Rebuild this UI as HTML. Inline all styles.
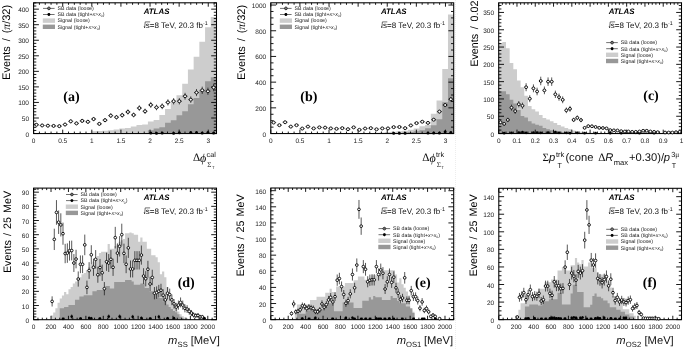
<!DOCTYPE html>
<html><head><meta charset="utf-8"><title>ATLAS figure</title>
<style>html,body{margin:0;padding:0;background:#fff}svg{display:block}</style></head><body>
<svg width="685" height="350" viewBox="0 0 685 350" text-rendering="geometricPrecision">
<rect width="685" height="350" fill="#fff"/>
<path d="M455.5 0V350" stroke="#ededed" stroke-width="1" stroke-dasharray="1 1"/>
<path d="M33.6 133.55 L33.6 133.55 L39.32 133.55 L39.32 133.55 L45.03 133.55 L45.03 133.55 L50.75 133.55 L50.75 133.55 L56.46 133.55 L56.46 133.55 L62.18 133.55 L62.18 133.55 L67.89 133.55 L67.89 133.55 L73.61 133.55 L73.61 133.55 L79.33 133.55 L79.33 133.55 L85.04 133.55 L85.04 133.55 L90.76 133.55 L90.76 131.37 L96.47 131.37 L96.47 131.06 L102.19 131.06 L102.19 130.75 L107.9 130.75 L107.9 130.13 L113.62 130.13 L113.62 129.51 L119.33 129.51 L119.33 128.57 L125.05 128.57 L125.05 127.95 L130.77 127.95 L130.77 126.55 L136.48 126.55 L136.48 125 L142.2 125 L142.2 124.38 L147.91 124.38 L147.91 121.58 L153.63 121.58 L153.63 120.02 L159.34 120.02 L159.34 115.05 L165.06 115.05 L165.06 108.98 L170.77 108.98 L170.78 102.29 L176.49 102.29 L176.49 95.14 L182.21 95.14 L182.21 83.79 L187.92 83.79 L187.92 69.48 L193.64 69.48 L193.64 56.73 L199.35 56.73 L199.35 41.81 L205.07 41.81 L205.07 27.19 L210.78 27.19 L210.78 16.93 L216.5 16.93 L216.5 133.55 Z" fill="#cdcdcd"/>
<path d="M33.6 133.55 L33.6 133.55 L39.32 133.55 L39.32 133.55 L45.03 133.55 L45.03 133.55 L50.75 133.55 L50.75 133.55 L56.46 133.55 L56.46 133.55 L62.18 133.55 L62.18 133.55 L67.89 133.55 L67.89 133.55 L73.61 133.55 L73.61 133.55 L79.33 133.55 L79.33 133.55 L85.04 133.55 L85.04 133.55 L90.76 133.55 L90.76 133.55 L96.47 133.55 L96.47 133.55 L102.19 133.55 L102.19 133.55 L107.9 133.55 L107.9 133.55 L113.62 133.55 L113.62 133.55 L119.33 133.55 L119.33 133.55 L125.05 133.55 L125.05 133.55 L130.77 133.55 L130.77 133.55 L136.48 133.55 L136.48 133.55 L142.2 133.55 L142.2 133.55 L147.91 133.55 L147.91 130.13 L153.63 130.13 L153.63 128.57 L159.34 128.57 L159.34 127.14 L165.06 127.14 L165.06 122.67 L170.77 122.67 L170.78 120.18 L176.49 120.18 L176.49 115.2 L182.21 115.2 L182.21 111.16 L187.92 111.16 L187.92 104.16 L193.64 104.16 L193.64 98.1 L199.35 98.1 L199.35 90.17 L205.07 90.17 L205.07 81.3 L210.78 81.3 L210.78 77.26 L216.5 77.26 L216.5 133.55 Z" fill="#989898"/>
<path d="M33.6 133.55 v-3.9 M33.6 2.8 v3.9 M39.42 133.55 v-2 M39.42 2.8 v2 M45.24 133.55 v-2 M45.24 2.8 v2 M51.07 133.55 v-2 M51.07 2.8 v2 M56.89 133.55 v-2 M56.89 2.8 v2 M62.71 133.55 v-3.9 M62.71 2.8 v3.9 M68.53 133.55 v-2 M68.53 2.8 v2 M74.35 133.55 v-2 M74.35 2.8 v2 M80.18 133.55 v-2 M80.18 2.8 v2 M86 133.55 v-2 M86 2.8 v2 M91.82 133.55 v-3.9 M91.82 2.8 v3.9 M97.64 133.55 v-2 M97.64 2.8 v2 M103.46 133.55 v-2 M103.46 2.8 v2 M109.28 133.55 v-2 M109.28 2.8 v2 M115.11 133.55 v-2 M115.11 2.8 v2 M120.93 133.55 v-3.9 M120.93 2.8 v3.9 M126.75 133.55 v-2 M126.75 2.8 v2 M132.57 133.55 v-2 M132.57 2.8 v2 M138.39 133.55 v-2 M138.39 2.8 v2 M144.22 133.55 v-2 M144.22 2.8 v2 M150.04 133.55 v-3.9 M150.04 2.8 v3.9 M155.86 133.55 v-2 M155.86 2.8 v2 M161.68 133.55 v-2 M161.68 2.8 v2 M167.5 133.55 v-2 M167.5 2.8 v2 M173.33 133.55 v-2 M173.33 2.8 v2 M179.15 133.55 v-3.9 M179.15 2.8 v3.9 M184.97 133.55 v-2 M184.97 2.8 v2 M190.79 133.55 v-2 M190.79 2.8 v2 M196.61 133.55 v-2 M196.61 2.8 v2 M202.43 133.55 v-2 M202.43 2.8 v2 M208.26 133.55 v-3.9 M208.26 2.8 v3.9 M214.08 133.55 v-2 M214.08 2.8 v2 M33.6 133.55 h5.3 M216.5 133.55 h-5.3 M33.6 130.44 h2.7 M216.5 130.44 h-2.7 M33.6 127.33 h2.7 M216.5 127.33 h-2.7 M33.6 124.22 h2.7 M216.5 124.22 h-2.7 M33.6 121.11 h2.7 M216.5 121.11 h-2.7 M33.6 118 h5.3 M216.5 118 h-5.3 M33.6 114.89 h2.7 M216.5 114.89 h-2.7 M33.6 111.78 h2.7 M216.5 111.78 h-2.7 M33.6 108.67 h2.7 M216.5 108.67 h-2.7 M33.6 105.56 h2.7 M216.5 105.56 h-2.7 M33.6 102.45 h5.3 M216.5 102.45 h-5.3 M33.6 99.34 h2.7 M216.5 99.34 h-2.7 M33.6 96.23 h2.7 M216.5 96.23 h-2.7 M33.6 93.12 h2.7 M216.5 93.12 h-2.7 M33.6 90.01 h2.7 M216.5 90.01 h-2.7 M33.6 86.9 h5.3 M216.5 86.9 h-5.3 M33.6 83.79 h2.7 M216.5 83.79 h-2.7 M33.6 80.68 h2.7 M216.5 80.68 h-2.7 M33.6 77.57 h2.7 M216.5 77.57 h-2.7 M33.6 74.46 h2.7 M216.5 74.46 h-2.7 M33.6 71.35 h5.3 M216.5 71.35 h-5.3 M33.6 68.24 h2.7 M216.5 68.24 h-2.7 M33.6 65.13 h2.7 M216.5 65.13 h-2.7 M33.6 62.02 h2.7 M216.5 62.02 h-2.7 M33.6 58.91 h2.7 M216.5 58.91 h-2.7 M33.6 55.8 h5.3 M216.5 55.8 h-5.3 M33.6 52.69 h2.7 M216.5 52.69 h-2.7 M33.6 49.58 h2.7 M216.5 49.58 h-2.7 M33.6 46.47 h2.7 M216.5 46.47 h-2.7 M33.6 43.36 h2.7 M216.5 43.36 h-2.7 M33.6 40.25 h5.3 M216.5 40.25 h-5.3 M33.6 37.14 h2.7 M216.5 37.14 h-2.7 M33.6 34.03 h2.7 M216.5 34.03 h-2.7 M33.6 30.92 h2.7 M216.5 30.92 h-2.7 M33.6 27.81 h2.7 M216.5 27.81 h-2.7 M33.6 24.7 h5.3 M216.5 24.7 h-5.3 M33.6 21.59 h2.7 M216.5 21.59 h-2.7 M33.6 18.48 h2.7 M216.5 18.48 h-2.7 M33.6 15.37 h2.7 M216.5 15.37 h-2.7 M33.6 12.26 h2.7 M216.5 12.26 h-2.7 M33.6 9.15 h5.3 M216.5 9.15 h-5.3 M33.6 6.04 h2.7 M216.5 6.04 h-2.7 M33.6 2.93 h2.7 M216.5 2.93 h-2.7" stroke="#000" stroke-width="0.9" fill="none"/>
<g font-family='"Liberation Sans", sans-serif' font-size="6.5" fill="#1a1a1a"><text x="33.6" y="143.05" text-anchor="middle">0</text><text x="62.71" y="143.05" text-anchor="middle">0.5</text><text x="91.82" y="143.05" text-anchor="middle">1</text><text x="120.93" y="143.05" text-anchor="middle">1.5</text><text x="150.04" y="143.05" text-anchor="middle">2</text><text x="179.15" y="143.05" text-anchor="middle">2.5</text><text x="208.26" y="143.05" text-anchor="middle">3</text><text x="29" y="136.55" text-anchor="end">0</text><text x="29" y="121" text-anchor="end">50</text><text x="29" y="105.45" text-anchor="end">100</text><text x="29" y="89.9" text-anchor="end">150</text><text x="29" y="74.35" text-anchor="end">200</text><text x="29" y="58.8" text-anchor="end">250</text><text x="29" y="43.25" text-anchor="end">300</text><text x="29" y="27.7" text-anchor="end">350</text><text x="29" y="12.15" text-anchor="end">400</text></g>
<rect x="33.6" y="2.8" width="182.9" height="130.75" fill="none" stroke="#000" stroke-width="1.05"/>
<path d="M150.77 132.7 V133.46 M156.49 132.93 V133.55 M162.2 132.7 V133.46 M173.63 132.93 V133.55 M179.35 132.28 V133.26 M190.78 132.08 V133.16 M196.5 132.08 V133.16 M202.21 132.49 V133.37 M207.93 131.88 V133.04 M213.64 132.49 V133.37" stroke="#111" stroke-width="0.7" fill="none"/>
<g fill="#000"><circle cx="150.77" cy="133.08" r="1.5"/><circle cx="156.49" cy="133.24" r="1.5"/><circle cx="162.2" cy="133.08" r="1.5"/><circle cx="173.63" cy="133.24" r="1.5"/><circle cx="179.35" cy="132.77" r="1.5"/><circle cx="190.78" cy="132.62" r="1.5"/><circle cx="196.5" cy="132.62" r="1.5"/><circle cx="202.21" cy="132.93" r="1.5"/><circle cx="207.93" cy="132.46" r="1.5"/><circle cx="213.64" cy="132.93" r="1.5"/></g>
<path d="M36.46 123.09 V126.4 M33.96 124.75 H38.96 M42.17 123.88 V127.05 M39.67 125.46 H44.67 M47.89 124.12 V127.25 M45.39 125.68 H50.39 M53.6 124.36 V127.44 M51.1 125.9 H56.1 M59.32 124.63 V127.67 M56.82 126.15 H61.82 M65.04 122.86 V126.21 M62.54 124.53 H67.54 M70.75 119.38 V123.28 M68.25 121.33 H73.25 M76.47 121.6 V125.16 M73.97 123.38 H78.97 M82.18 118.91 V122.88 M79.68 120.89 H84.68 M87.9 119.88 V123.71 M85.4 121.79 H90.4 M93.61 116.93 V121.18 M91.11 119.06 H96.11 M99.33 122.11 V125.58 M96.83 123.85 H101.83 M105.05 118.14 V122.22 M102.55 120.18 H107.55 M110.76 113.28 V118 M108.26 115.64 H113.26 M116.48 114.97 V119.48 M113.98 117.22 H118.98 M122.19 112.81 V117.59 M119.69 115.2 H124.69 M127.91 109.38 V114.56 M125.41 111.97 H130.41 M133.62 112.55 V117.36 M131.12 114.95 H136.12 M139.34 105.26 V110.89 M136.84 108.08 H141.84 M145.05 108.65 V113.91 M142.55 111.28 H147.55 M150.77 101.92 V107.89 M148.27 104.91 H153.27 M156.49 104.58 V110.28 M153.99 107.43 H158.99 M162.2 103.36 V109.19 M159.7 106.28 H164.7 M167.92 99.27 V105.5 M165.42 102.39 H170.42 M173.63 98.07 V104.41 M171.13 101.24 H176.13 M179.35 98.07 V104.41 M176.85 101.24 H181.85 M185.06 92.82 V99.64 M182.56 96.23 H187.56 M190.78 96.4 V102.9 M188.28 99.65 H193.28 M196.5 88.99 V96.13 M194 92.56 H199 M202.21 86.65 V93.99 M199.71 90.32 H204.71 M207.93 87.63 V94.88 M205.43 91.25 H210.43 M213.64 83.74 V91.31 M211.14 87.52 H216.14" stroke="#111" stroke-width="0.7" fill="none"/>
<g fill="#fff" stroke="#000" stroke-width="0.9"><circle cx="36.46" cy="124.75" r="1.5"/><circle cx="42.17" cy="125.46" r="1.5"/><circle cx="47.89" cy="125.68" r="1.5"/><circle cx="53.6" cy="125.9" r="1.5"/><circle cx="59.32" cy="126.15" r="1.5"/><circle cx="65.04" cy="124.53" r="1.5"/><circle cx="70.75" cy="121.33" r="1.5"/><circle cx="76.47" cy="123.38" r="1.5"/><circle cx="82.18" cy="120.89" r="1.5"/><circle cx="87.9" cy="121.79" r="1.5"/><circle cx="93.61" cy="119.06" r="1.5"/><circle cx="99.33" cy="123.85" r="1.5"/><circle cx="105.05" cy="120.18" r="1.5"/><circle cx="110.76" cy="115.64" r="1.5"/><circle cx="116.48" cy="117.22" r="1.5"/><circle cx="122.19" cy="115.2" r="1.5"/><circle cx="127.91" cy="111.97" r="1.5"/><circle cx="133.62" cy="114.95" r="1.5"/><circle cx="139.34" cy="108.08" r="1.5"/><circle cx="145.05" cy="111.28" r="1.5"/><circle cx="150.77" cy="104.91" r="1.5"/><circle cx="156.49" cy="107.43" r="1.5"/><circle cx="162.2" cy="106.28" r="1.5"/><circle cx="167.92" cy="102.39" r="1.5"/><circle cx="173.63" cy="101.24" r="1.5"/><circle cx="179.35" cy="101.24" r="1.5"/><circle cx="185.06" cy="96.23" r="1.5"/><circle cx="190.78" cy="99.65" r="1.5"/><circle cx="196.5" cy="92.56" r="1.5"/><circle cx="202.21" cy="90.32" r="1.5"/><circle cx="207.93" cy="91.25" r="1.5"/><circle cx="213.64" cy="87.52" r="1.5"/></g>
<path d="M43 8.4 h11.6 M43 14.5 h11.6 M48.9 6.9 v3 M48.9 13 v3" stroke="#111" stroke-width="0.6" fill="none"/>
<circle cx="48.9" cy="8.4" r="1.35" fill="#fff" stroke="#000" stroke-width="0.75"/>
<path d="M47.3 8.4 h3.2 M48.9 6.9 v3" stroke="#222" stroke-width="0.5" fill="none"/>
<circle cx="48.9" cy="14.5" r="1.45" fill="#000"/>
<rect x="42.8" y="18.4" width="12.2" height="4.4" fill="#cdcdcd"/>
<rect x="42.8" y="24.6" width="12.2" height="4.4" fill="#989898"/>
<g font-family='"Liberation Sans", sans-serif' font-size="5.25" fill="#222"><text x="57.6" y="10.2">SB data (loose)</text><text x="57.6" y="16.3">SB data (tight+<tspan font-style="italic">x</tspan>&gt;<tspan font-style="italic">x</tspan><tspan font-size="3.4" dy="1.1">0</tspan><tspan dy="-1.1">)</tspan></text><text x="57.6" y="22.4">Signal (loose)</text><text x="57.6" y="28.6">Signal (tight+<tspan font-style="italic">x</tspan>&gt;<tspan font-style="italic">x</tspan><tspan font-size="3.4" dy="1.1">0</tspan><tspan dy="-1.1">)</tspan></text></g>
<text x="143.7" y="13.9" font-family='"Liberation Sans", sans-serif' font-size="7.9" font-weight="bold" font-style="italic" fill="#000">ATLAS</text>
<path d="M144.2 26.1 l0.45 1.9 l0.55 -6.1 h4.9" stroke="#111" stroke-width="0.6" fill="none" stroke-linejoin="miter"/>
<text x="145.8" y="28" font-family='"Liberation Sans", sans-serif' font-size="8" fill="#111">s=8 TeV, 20.3 fb<tspan font-size="5.3" dy="-3.4">-1</tspan></text>
<text x="71.4" y="101.1" text-anchor="middle" font-family='"Liberation Serif", serif' font-size="14" font-weight="bold" fill="#000">(a)</text>
<path d="M270.8 133.55 L270.8 133.55 L276.52 133.55 L276.52 133.55 L282.23 133.55 L282.23 133.55 L287.95 133.55 L287.95 133.55 L293.66 133.55 L293.66 133.55 L299.38 133.55 L299.38 133.55 L305.09 133.55 L305.09 133.55 L310.81 133.55 L310.81 133.55 L316.52 133.55 L316.52 133.55 L322.24 133.55 L322.24 133.55 L327.96 133.55 L327.96 133.55 L333.67 133.55 L333.67 133.55 L339.39 133.55 L339.39 133.55 L345.1 133.55 L345.1 133.55 L350.82 133.55 L350.82 133.55 L356.53 133.55 L356.53 133.55 L362.25 133.55 L362.25 133.04 L367.97 133.04 L367.97 132.91 L373.68 132.91 L373.68 132.78 L379.4 132.78 L379.4 132.52 L385.11 132.52 L385.11 132.01 L390.83 132.01 L390.83 131.75 L396.54 131.75 L396.54 131.37 L402.26 131.37 L402.26 130.72 L407.97 130.72 L407.98 129.82 L413.69 129.82 L413.69 128.41 L419.41 128.41 L419.41 126.35 L425.12 126.35 L425.12 124.94 L430.84 124.94 L430.84 113.76 L436.55 113.76 L436.55 100.53 L442.27 100.53 L442.27 68.91 L447.98 68.91 L447.98 14.56 L453.7 14.56 L453.7 133.55 Z" fill="#cdcdcd"/>
<path d="M270.8 133.55 L270.8 133.55 L276.52 133.55 L276.52 133.55 L282.23 133.55 L282.23 133.55 L287.95 133.55 L287.95 133.55 L293.66 133.55 L293.66 133.55 L299.38 133.55 L299.38 133.55 L305.09 133.55 L305.09 133.55 L310.81 133.55 L310.81 133.55 L316.52 133.55 L316.52 133.55 L322.24 133.55 L322.24 133.55 L327.96 133.55 L327.96 133.55 L333.67 133.55 L333.67 133.55 L339.39 133.55 L339.39 133.55 L345.1 133.55 L345.1 133.55 L350.82 133.55 L350.82 133.55 L356.53 133.55 L356.53 133.55 L362.25 133.55 L362.25 133.55 L367.97 133.55 L367.97 133.55 L373.68 133.55 L373.68 133.55 L379.4 133.55 L379.4 133.55 L385.11 133.55 L385.11 133.55 L390.83 133.55 L390.83 133.55 L396.54 133.55 L396.54 132.91 L402.26 132.91 L402.26 132.52 L407.97 132.52 L407.98 132.01 L413.69 132.01 L413.69 131.37 L419.41 131.37 L419.41 130.34 L425.12 130.34 L425.12 128.28 L430.84 128.28 L430.84 125.2 L436.55 125.2 L436.55 119.16 L442.27 119.16 L442.27 102.2 L447.98 102.2 L447.98 78.17 L453.7 78.17 L453.7 133.55 Z" fill="#989898"/>
<path d="M270.8 133.55 v-3.9 M270.8 2.8 v3.9 M276.62 133.55 v-2 M276.62 2.8 v2 M282.44 133.55 v-2 M282.44 2.8 v2 M288.27 133.55 v-2 M288.27 2.8 v2 M294.09 133.55 v-2 M294.09 2.8 v2 M299.91 133.55 v-3.9 M299.91 2.8 v3.9 M305.73 133.55 v-2 M305.73 2.8 v2 M311.55 133.55 v-2 M311.55 2.8 v2 M317.38 133.55 v-2 M317.38 2.8 v2 M323.2 133.55 v-2 M323.2 2.8 v2 M329.02 133.55 v-3.9 M329.02 2.8 v3.9 M334.84 133.55 v-2 M334.84 2.8 v2 M340.66 133.55 v-2 M340.66 2.8 v2 M346.48 133.55 v-2 M346.48 2.8 v2 M352.31 133.55 v-2 M352.31 2.8 v2 M358.13 133.55 v-3.9 M358.13 2.8 v3.9 M363.95 133.55 v-2 M363.95 2.8 v2 M369.77 133.55 v-2 M369.77 2.8 v2 M375.59 133.55 v-2 M375.59 2.8 v2 M381.42 133.55 v-2 M381.42 2.8 v2 M387.24 133.55 v-3.9 M387.24 2.8 v3.9 M393.06 133.55 v-2 M393.06 2.8 v2 M398.88 133.55 v-2 M398.88 2.8 v2 M404.7 133.55 v-2 M404.7 2.8 v2 M410.53 133.55 v-2 M410.53 2.8 v2 M416.35 133.55 v-3.9 M416.35 2.8 v3.9 M422.17 133.55 v-2 M422.17 2.8 v2 M427.99 133.55 v-2 M427.99 2.8 v2 M433.81 133.55 v-2 M433.81 2.8 v2 M439.63 133.55 v-2 M439.63 2.8 v2 M445.46 133.55 v-3.9 M445.46 2.8 v3.9 M451.28 133.55 v-2 M451.28 2.8 v2 M270.8 133.55 h5.3 M453.7 133.55 h-5.3 M270.8 127.13 h2.7 M453.7 127.13 h-2.7 M270.8 120.7 h2.7 M453.7 120.7 h-2.7 M270.8 114.28 h2.7 M453.7 114.28 h-2.7 M270.8 107.85 h5.3 M453.7 107.85 h-5.3 M270.8 101.43 h2.7 M453.7 101.43 h-2.7 M270.8 95 h2.7 M453.7 95 h-2.7 M270.8 88.58 h2.7 M453.7 88.58 h-2.7 M270.8 82.15 h5.3 M453.7 82.15 h-5.3 M270.8 75.73 h2.7 M453.7 75.73 h-2.7 M270.8 69.3 h2.7 M453.7 69.3 h-2.7 M270.8 62.88 h2.7 M453.7 62.88 h-2.7 M270.8 56.45 h5.3 M453.7 56.45 h-5.3 M270.8 50.03 h2.7 M453.7 50.03 h-2.7 M270.8 43.6 h2.7 M453.7 43.6 h-2.7 M270.8 37.18 h2.7 M453.7 37.18 h-2.7 M270.8 30.75 h5.3 M453.7 30.75 h-5.3 M270.8 24.33 h2.7 M453.7 24.33 h-2.7 M270.8 17.9 h2.7 M453.7 17.9 h-2.7 M270.8 11.48 h2.7 M453.7 11.48 h-2.7 M270.8 5.05 h5.3 M453.7 5.05 h-5.3" stroke="#000" stroke-width="0.9" fill="none"/>
<g font-family='"Liberation Sans", sans-serif' font-size="6.5" fill="#1a1a1a"><text x="270.8" y="143.05" text-anchor="middle">0</text><text x="299.91" y="143.05" text-anchor="middle">0.5</text><text x="329.02" y="143.05" text-anchor="middle">1</text><text x="358.13" y="143.05" text-anchor="middle">1.5</text><text x="387.24" y="143.05" text-anchor="middle">2</text><text x="416.35" y="143.05" text-anchor="middle">2.5</text><text x="445.46" y="143.05" text-anchor="middle">3</text><text x="266.2" y="136.55" text-anchor="end">0</text><text x="266.2" y="110.85" text-anchor="end">200</text><text x="266.2" y="85.15" text-anchor="end">400</text><text x="266.2" y="59.45" text-anchor="end">600</text><text x="266.2" y="33.75" text-anchor="end">800</text><text x="266.2" y="8.05" text-anchor="end">1000</text></g>
<rect x="270.8" y="2.8" width="182.9" height="130.75" fill="none" stroke="#000" stroke-width="1.05"/>
<path d="M393.69 132.94 V133.39 M399.4 132.94 V133.39 M405.12 132.94 V133.39 M427.98 132.78 V133.29 M433.7 132.78 V133.29 M439.41 132.62 V133.19 M445.13 131.27 V132.23 M450.84 132.01 V132.78" stroke="#111" stroke-width="0.7" fill="none"/>
<g fill="#000"><circle cx="393.69" cy="133.16" r="1.5"/><circle cx="399.4" cy="133.16" r="1.5"/><circle cx="405.12" cy="133.16" r="1.5"/><circle cx="427.98" cy="133.04" r="1.5"/><circle cx="433.7" cy="133.04" r="1.5"/><circle cx="439.41" cy="132.91" r="1.5"/><circle cx="445.13" cy="131.75" r="1.5"/><circle cx="450.84" cy="132.39" r="1.5"/></g>
<path d="M273.66 121.36 V123.74 M271.16 122.55 H276.16 M279.37 124.16 V126.23 M276.87 125.2 H281.87 M285.09 121.04 V123.45 M282.59 122.24 H287.59 M290.8 125.67 V127.56 M288.3 126.61 H293.3 M296.52 124.16 V126.23 M294.02 125.2 H299.02 M302.24 127.74 V129.34 M299.74 128.54 H304.74 M307.95 125.67 V127.56 M305.45 126.61 H310.45 M313.67 127.6 V129.22 M311.17 128.41 H316.17 M319.38 126.49 V128.27 M316.88 127.38 H321.88 M325.1 126.77 V128.51 M322.6 127.64 H327.6 M330.81 127.6 V129.22 M328.31 128.41 H333.31 M336.53 128.01 V129.58 M334.03 128.8 H339.03 M342.25 127.32 V128.99 M339.75 128.15 H344.75 M347.96 128.43 V129.93 M345.46 129.18 H350.46 M353.68 126.49 V128.27 M351.18 127.38 H356.18 M359.39 129.13 V130.52 M356.89 129.82 H361.89 M365.11 127.74 V129.34 M362.61 128.54 H367.61 M370.82 127.32 V128.99 M368.32 128.15 H373.32 M376.54 128.57 V130.05 M374.04 129.31 H379.04 M382.25 127.6 V129.22 M379.75 128.41 H384.75 M387.97 127.6 V129.22 M385.47 128.41 H390.47 M393.69 126.22 V128.03 M391.19 127.13 H396.19 M399.4 126.08 V127.91 M396.9 127 H401.9 M405.12 127.32 V128.99 M402.62 128.15 H407.62 M410.83 124.43 V126.47 M408.33 125.45 H413.33 M416.55 121.99 V124.3 M414.05 123.14 H419.05 M422.26 120.5 V122.96 M419.76 121.73 H424.76 M427.98 121.71 V124.06 M425.48 122.88 H430.48 M433.7 118.34 V121.01 M431.2 119.67 H436.2 M439.41 109.9 V113.26 M436.91 111.58 H441.91 M445.13 103.11 V106.94 M442.63 105.02 H447.63 M450.84 97.14 V101.34 M448.34 99.24 H453.34" stroke="#111" stroke-width="0.7" fill="none"/>
<g fill="#fff" stroke="#000" stroke-width="0.9"><circle cx="273.66" cy="122.55" r="1.5"/><circle cx="279.37" cy="125.2" r="1.5"/><circle cx="285.09" cy="122.24" r="1.5"/><circle cx="290.8" cy="126.61" r="1.5"/><circle cx="296.52" cy="125.2" r="1.5"/><circle cx="302.24" cy="128.54" r="1.5"/><circle cx="307.95" cy="126.61" r="1.5"/><circle cx="313.67" cy="128.41" r="1.5"/><circle cx="319.38" cy="127.38" r="1.5"/><circle cx="325.1" cy="127.64" r="1.5"/><circle cx="330.81" cy="128.41" r="1.5"/><circle cx="336.53" cy="128.8" r="1.5"/><circle cx="342.25" cy="128.15" r="1.5"/><circle cx="347.96" cy="129.18" r="1.5"/><circle cx="353.68" cy="127.38" r="1.5"/><circle cx="359.39" cy="129.82" r="1.5"/><circle cx="365.11" cy="128.54" r="1.5"/><circle cx="370.82" cy="128.15" r="1.5"/><circle cx="376.54" cy="129.31" r="1.5"/><circle cx="382.25" cy="128.41" r="1.5"/><circle cx="387.97" cy="128.41" r="1.5"/><circle cx="393.69" cy="127.13" r="1.5"/><circle cx="399.4" cy="127" r="1.5"/><circle cx="405.12" cy="128.15" r="1.5"/><circle cx="410.83" cy="125.45" r="1.5"/><circle cx="416.55" cy="123.14" r="1.5"/><circle cx="422.26" cy="121.73" r="1.5"/><circle cx="427.98" cy="122.88" r="1.5"/><circle cx="433.7" cy="119.67" r="1.5"/><circle cx="439.41" cy="111.58" r="1.5"/><circle cx="445.13" cy="105.02" r="1.5"/><circle cx="450.84" cy="99.24" r="1.5"/></g>
<path d="M280 8.4 h11.6 M280 14.5 h11.6 M285.9 6.9 v3 M285.9 13 v3" stroke="#111" stroke-width="0.6" fill="none"/>
<circle cx="285.9" cy="8.4" r="1.35" fill="#fff" stroke="#000" stroke-width="0.75"/>
<path d="M284.3 8.4 h3.2 M285.9 6.9 v3" stroke="#222" stroke-width="0.5" fill="none"/>
<circle cx="285.9" cy="14.5" r="1.45" fill="#000"/>
<rect x="279.8" y="18.4" width="12.2" height="4.4" fill="#cdcdcd"/>
<rect x="279.8" y="24.6" width="12.2" height="4.4" fill="#989898"/>
<g font-family='"Liberation Sans", sans-serif' font-size="5.25" fill="#222"><text x="294.6" y="10.2">SB data (loose)</text><text x="294.6" y="16.3">SB data (tight+<tspan font-style="italic">x</tspan>&gt;<tspan font-style="italic">x</tspan><tspan font-size="3.4" dy="1.1">0</tspan><tspan dy="-1.1">)</tspan></text><text x="294.6" y="22.4">Signal (loose)</text><text x="294.6" y="28.6">Signal (tight+<tspan font-style="italic">x</tspan>&gt;<tspan font-style="italic">x</tspan><tspan font-size="3.4" dy="1.1">0</tspan><tspan dy="-1.1">)</tspan></text></g>
<text x="380.9" y="13.9" font-family='"Liberation Sans", sans-serif' font-size="7.9" font-weight="bold" font-style="italic" fill="#000">ATLAS</text>
<path d="M381.4 26.1 l0.45 1.9 l0.55 -6.1 h4.9" stroke="#111" stroke-width="0.6" fill="none" stroke-linejoin="miter"/>
<text x="383" y="28" font-family='"Liberation Sans", sans-serif' font-size="8" fill="#111">s=8 TeV, 20.3 fb<tspan font-size="5.3" dy="-3.4">-1</tspan></text>
<text x="308.8" y="100.9" text-anchor="middle" font-family='"Liberation Serif", serif' font-size="14" font-weight="bold" fill="#000">(b)</text>
<path d="M498.7 133.55 L498.7 42.9 L502.36 42.9 L502.36 41.96 L506.01 41.96 L506.01 48.26 L509.67 48.26 L509.67 62.97 L513.32 62.97 L513.32 69.19 L516.98 69.19 L516.98 80.61 L520.64 80.61 L520.64 87.19 L524.29 87.19 L524.29 95.84 L527.95 95.84 L527.95 106.08 L531.6 106.08 L531.6 109.23 L535.26 109.23 L535.26 111.61 L538.92 111.61 L538.92 115.07 L542.57 115.07 L542.57 117.88 L546.23 117.88 L546.23 119.47 L549.88 119.47 L549.88 121.34 L553.54 121.34 L553.54 122.93 L557.2 122.93 L557.2 124.97 L560.85 124.97 L560.85 126.53 L564.51 126.53 L564.51 128.12 L568.16 128.12 L568.16 129.36 L571.82 129.36 L571.82 130.47 L575.48 130.47 L575.48 131.27 L579.13 131.27 L579.13 131.82 L582.79 131.82 L582.79 132.17 L586.44 132.17 L586.44 132.51 L590.1 132.51 L590.1 132.69 L593.76 132.69 L593.76 132.86 L597.41 132.86 L597.41 133.03 L601.07 133.03 L601.07 133.2 L604.72 133.2 L604.72 133.55 L608.38 133.55 L608.38 133.55 L612.04 133.55 L612.04 133.55 L615.69 133.55 L615.69 133.55 L619.35 133.55 L619.35 133.55 L623 133.55 L623 133.55 L626.66 133.55 L626.66 133.55 L630.32 133.55 L630.32 133.55 L633.97 133.55 L633.97 133.55 L637.63 133.55 L637.63 133.55 L641.28 133.55 L641.28 133.55 L644.94 133.55 L644.94 133.55 L648.6 133.55 L648.6 133.55 L652.25 133.55 L652.25 133.55 L655.91 133.55 L655.91 133.55 L659.56 133.55 L659.56 133.55 L663.22 133.55 L663.22 133.55 L666.88 133.55 L666.88 133.55 L670.53 133.55 L670.53 133.55 L674.19 133.55 L674.19 133.55 L677.84 133.55 L677.84 133.55 L681.5 133.55 L681.5 133.55 Z" fill="#cdcdcd"/>
<path d="M498.7 133.55 L498.7 91.17 L502.36 91.17 L502.36 91.17 L506.01 91.17 L506.01 94.31 L509.67 94.31 L509.67 99.82 L513.32 99.82 L513.32 103.45 L516.98 103.45 L516.98 110.02 L520.64 110.02 L520.64 116.01 L524.29 116.01 L524.29 117.56 L527.95 117.56 L527.95 121.34 L531.6 121.34 L531.6 123.38 L535.26 123.38 L535.26 124.66 L538.92 124.66 L538.92 125.77 L542.57 125.77 L542.57 128.12 L546.23 128.12 L546.23 129.23 L549.88 129.23 L549.88 130.16 L553.54 130.16 L553.54 130.78 L557.2 130.78 L557.2 131.4 L560.85 131.4 L560.85 131.89 L564.51 131.89 L564.51 132.34 L568.16 132.34 L568.16 132.69 L571.82 132.69 L571.82 133 L575.48 133 L575.48 133.2 L579.13 133.2 L579.13 133.55 L582.79 133.55 L582.79 133.55 L586.44 133.55 L586.44 133.55 L590.1 133.55 L590.1 133.55 L593.76 133.55 L593.76 133.55 L597.41 133.55 L597.41 133.55 L601.07 133.55 L601.07 133.55 L604.72 133.55 L604.72 133.55 L608.38 133.55 L608.38 133.55 L612.04 133.55 L612.04 133.55 L615.69 133.55 L615.69 133.55 L619.35 133.55 L619.35 133.55 L623 133.55 L623 133.55 L626.66 133.55 L626.66 133.55 L630.32 133.55 L630.32 133.55 L633.97 133.55 L633.97 133.55 L637.63 133.55 L637.63 133.55 L641.28 133.55 L641.28 133.55 L644.94 133.55 L644.94 133.55 L648.6 133.55 L648.6 133.55 L652.25 133.55 L652.25 133.55 L655.91 133.55 L655.91 133.55 L659.56 133.55 L659.56 133.55 L663.22 133.55 L663.22 133.55 L666.88 133.55 L666.88 133.55 L670.53 133.55 L670.53 133.55 L674.19 133.55 L674.19 133.55 L677.84 133.55 L677.84 133.55 L681.5 133.55 L681.5 133.55 Z" fill="#989898"/>
<path d="M498.7 133.55 v-3.9 M498.7 2.8 v3.9 M502.36 133.55 v-2 M502.36 2.8 v2 M506.01 133.55 v-2 M506.01 2.8 v2 M509.67 133.55 v-2 M509.67 2.8 v2 M513.32 133.55 v-2 M513.32 2.8 v2 M516.98 133.55 v-3.9 M516.98 2.8 v3.9 M520.64 133.55 v-2 M520.64 2.8 v2 M524.29 133.55 v-2 M524.29 2.8 v2 M527.95 133.55 v-2 M527.95 2.8 v2 M531.6 133.55 v-2 M531.6 2.8 v2 M535.26 133.55 v-3.9 M535.26 2.8 v3.9 M538.92 133.55 v-2 M538.92 2.8 v2 M542.57 133.55 v-2 M542.57 2.8 v2 M546.23 133.55 v-2 M546.23 2.8 v2 M549.88 133.55 v-2 M549.88 2.8 v2 M553.54 133.55 v-3.9 M553.54 2.8 v3.9 M557.2 133.55 v-2 M557.2 2.8 v2 M560.85 133.55 v-2 M560.85 2.8 v2 M564.51 133.55 v-2 M564.51 2.8 v2 M568.16 133.55 v-2 M568.16 2.8 v2 M571.82 133.55 v-3.9 M571.82 2.8 v3.9 M575.48 133.55 v-2 M575.48 2.8 v2 M579.13 133.55 v-2 M579.13 2.8 v2 M582.79 133.55 v-2 M582.79 2.8 v2 M586.44 133.55 v-2 M586.44 2.8 v2 M590.1 133.55 v-3.9 M590.1 2.8 v3.9 M593.76 133.55 v-2 M593.76 2.8 v2 M597.41 133.55 v-2 M597.41 2.8 v2 M601.07 133.55 v-2 M601.07 2.8 v2 M604.72 133.55 v-2 M604.72 2.8 v2 M608.38 133.55 v-3.9 M608.38 2.8 v3.9 M612.04 133.55 v-2 M612.04 2.8 v2 M615.69 133.55 v-2 M615.69 2.8 v2 M619.35 133.55 v-2 M619.35 2.8 v2 M623 133.55 v-2 M623 2.8 v2 M626.66 133.55 v-3.9 M626.66 2.8 v3.9 M630.32 133.55 v-2 M630.32 2.8 v2 M633.97 133.55 v-2 M633.97 2.8 v2 M637.63 133.55 v-2 M637.63 2.8 v2 M641.28 133.55 v-2 M641.28 2.8 v2 M644.94 133.55 v-3.9 M644.94 2.8 v3.9 M648.6 133.55 v-2 M648.6 2.8 v2 M652.25 133.55 v-2 M652.25 2.8 v2 M655.91 133.55 v-2 M655.91 2.8 v2 M659.56 133.55 v-2 M659.56 2.8 v2 M663.22 133.55 v-3.9 M663.22 2.8 v3.9 M666.88 133.55 v-2 M666.88 2.8 v2 M670.53 133.55 v-2 M670.53 2.8 v2 M674.19 133.55 v-2 M674.19 2.8 v2 M677.84 133.55 v-2 M677.84 2.8 v2 M681.5 133.55 v-3.9 M681.5 2.8 v3.9 M498.7 133.55 h5.3 M681.5 133.55 h-5.3 M498.7 130.09 h2.7 M681.5 130.09 h-2.7 M498.7 126.63 h2.7 M681.5 126.63 h-2.7 M498.7 123.17 h2.7 M681.5 123.17 h-2.7 M498.7 119.71 h2.7 M681.5 119.71 h-2.7 M498.7 116.25 h5.3 M681.5 116.25 h-5.3 M498.7 112.79 h2.7 M681.5 112.79 h-2.7 M498.7 109.33 h2.7 M681.5 109.33 h-2.7 M498.7 105.87 h2.7 M681.5 105.87 h-2.7 M498.7 102.41 h2.7 M681.5 102.41 h-2.7 M498.7 98.95 h5.3 M681.5 98.95 h-5.3 M498.7 95.49 h2.7 M681.5 95.49 h-2.7 M498.7 92.03 h2.7 M681.5 92.03 h-2.7 M498.7 88.57 h2.7 M681.5 88.57 h-2.7 M498.7 85.11 h2.7 M681.5 85.11 h-2.7 M498.7 81.65 h5.3 M681.5 81.65 h-5.3 M498.7 78.19 h2.7 M681.5 78.19 h-2.7 M498.7 74.73 h2.7 M681.5 74.73 h-2.7 M498.7 71.27 h2.7 M681.5 71.27 h-2.7 M498.7 67.81 h2.7 M681.5 67.81 h-2.7 M498.7 64.35 h5.3 M681.5 64.35 h-5.3 M498.7 60.89 h2.7 M681.5 60.89 h-2.7 M498.7 57.43 h2.7 M681.5 57.43 h-2.7 M498.7 53.97 h2.7 M681.5 53.97 h-2.7 M498.7 50.51 h2.7 M681.5 50.51 h-2.7 M498.7 47.05 h5.3 M681.5 47.05 h-5.3 M498.7 43.59 h2.7 M681.5 43.59 h-2.7 M498.7 40.13 h2.7 M681.5 40.13 h-2.7 M498.7 36.67 h2.7 M681.5 36.67 h-2.7 M498.7 33.21 h2.7 M681.5 33.21 h-2.7 M498.7 29.75 h5.3 M681.5 29.75 h-5.3 M498.7 26.29 h2.7 M681.5 26.29 h-2.7 M498.7 22.83 h2.7 M681.5 22.83 h-2.7 M498.7 19.37 h2.7 M681.5 19.37 h-2.7 M498.7 15.91 h2.7 M681.5 15.91 h-2.7 M498.7 12.45 h5.3 M681.5 12.45 h-5.3 M498.7 8.99 h2.7 M681.5 8.99 h-2.7 M498.7 5.53 h2.7 M681.5 5.53 h-2.7" stroke="#000" stroke-width="0.9" fill="none"/>
<g font-family='"Liberation Sans", sans-serif' font-size="6.5" fill="#1a1a1a"><text x="498.7" y="143.05" text-anchor="middle">0</text><text x="516.98" y="143.05" text-anchor="middle">0.1</text><text x="535.26" y="143.05" text-anchor="middle">0.2</text><text x="553.54" y="143.05" text-anchor="middle">0.3</text><text x="571.82" y="143.05" text-anchor="middle">0.4</text><text x="590.1" y="143.05" text-anchor="middle">0.5</text><text x="608.38" y="143.05" text-anchor="middle">0.6</text><text x="626.66" y="143.05" text-anchor="middle">0.7</text><text x="644.94" y="143.05" text-anchor="middle">0.8</text><text x="663.22" y="143.05" text-anchor="middle">0.9</text><text x="681.5" y="143.05" text-anchor="middle">1</text><text x="494.1" y="136.55" text-anchor="end">0</text><text x="494.1" y="119.25" text-anchor="end">50</text><text x="494.1" y="101.95" text-anchor="end">100</text><text x="494.1" y="84.65" text-anchor="end">150</text><text x="494.1" y="67.35" text-anchor="end">200</text><text x="494.1" y="50.05" text-anchor="end">250</text><text x="494.1" y="32.75" text-anchor="end">300</text><text x="494.1" y="15.45" text-anchor="end">350</text></g>
<rect x="498.7" y="2.8" width="182.8" height="130.75" fill="none" stroke="#000" stroke-width="1.05"/>
<path d="M504.18 132.86 V133.55 M511.5 132.37 V133.35 M518.81 131.91 V133.11 M522.46 131.47 V132.86 M526.12 132.37 V133.35 M533.43 131.91 V133.11 M537.09 131.91 V133.11 M540.74 132.37 V133.35 M548.06 131.91 V133.11 M555.37 131.47 V132.86 M559.02 132.37 V133.35 M566.34 132.37 V133.35 M569.99 132.86 V133.55 M577.3 132.37 V133.35 M584.62 132.86 V133.55 M595.58 132.86 V133.55 M610.21 132.86 V133.55 M621.18 132.86 V133.55 M635.8 132.37 V133.35 M639.46 132.86 V133.55 M654.08 132.86 V133.55" stroke="#111" stroke-width="0.7" fill="none"/>
<g fill="#000"><circle cx="504.18" cy="133.2" r="1.35"/><circle cx="511.5" cy="132.86" r="1.35"/><circle cx="518.81" cy="132.51" r="1.35"/><circle cx="522.46" cy="132.17" r="1.35"/><circle cx="526.12" cy="132.86" r="1.35"/><circle cx="533.43" cy="132.51" r="1.35"/><circle cx="537.09" cy="132.51" r="1.35"/><circle cx="540.74" cy="132.86" r="1.35"/><circle cx="548.06" cy="132.51" r="1.35"/><circle cx="555.37" cy="132.17" r="1.35"/><circle cx="559.02" cy="132.86" r="1.35"/><circle cx="566.34" cy="132.86" r="1.35"/><circle cx="569.99" cy="133.2" r="1.35"/><circle cx="577.3" cy="132.86" r="1.35"/><circle cx="584.62" cy="133.2" r="1.35"/><circle cx="595.58" cy="133.2" r="1.35"/><circle cx="610.21" cy="133.2" r="1.35"/><circle cx="621.18" cy="133.2" r="1.35"/><circle cx="635.8" cy="132.86" r="1.35"/><circle cx="639.46" cy="133.2" r="1.35"/><circle cx="654.08" cy="133.2" r="1.35"/></g>
<path d="M500.53 120.29 V124.25 M498.7 122.27 H502.36 M504.18 122.03 V125.69 M502.36 123.86 H506.01 M507.84 117.75 V122.09 M506.01 119.92 H509.67 M511.5 104.68 V110.66 M509.67 107.67 H513.32 M515.15 108.34 V113.91 M513.32 111.13 H516.98 M518.81 101.02 V107.4 M516.98 104.21 H520.64 M522.46 102.67 V108.87 M520.64 105.77 H524.29 M526.12 83.22 V91.22 M524.29 87.22 H527.95 M529.78 95.24 V102.18 M527.95 98.71 H531.6 M533.43 84.37 V92.28 M531.6 88.33 H535.26 M537.09 87.66 V95.29 M535.26 91.48 H538.92 M540.74 76.69 V85.22 M538.92 80.96 H542.57 M544.4 86.5 V94.23 M542.57 90.37 H546.23 M548.06 77.41 V85.89 M546.23 81.65 H549.88 M551.71 77.41 V85.89 M549.88 81.65 H553.54 M555.37 90.63 V98 M553.54 94.31 H557.2 M559.02 93.6 V100.7 M557.2 97.15 H560.85 M562.68 96.4 V103.23 M560.85 99.82 H564.51 M566.34 107.5 V113.17 M564.51 110.33 H568.16 M569.99 105.89 V111.74 M568.16 108.81 H571.82 M573.65 117.71 V122.06 M571.82 119.88 H575.48 M577.3 115.44 V120.11 M575.48 117.77 H579.13 M580.96 117.9 V122.22 M579.13 120.06 H582.79 M584.62 126.44 V129.25 M582.79 127.84 H586.44 M588.27 124.54 V127.75 M586.44 126.15 H590.1 M591.93 124.7 V127.87 M590.1 126.28 H593.76 M595.58 125.47 V128.48 M593.76 126.98 H597.41 M599.24 126.44 V129.25 M597.41 127.84 H601.07 M602.9 126.63 V129.4 M601.07 128.01 H604.72 M606.55 127.02 V129.7 M604.72 128.36 H608.38 M610.21 129 V131.18 M608.38 130.09 H612.04 M613.86 129.28 V131.39 M612.04 130.33 H615.69 M617.52 129.4 V131.47 M615.69 130.44 H619.35 M621.18 130.21 V132.04 M619.35 131.13 H623 M624.83 130.63 V132.32 M623 131.47 H626.66 M628.49 130.63 V132.32 M626.66 131.47 H630.32 M632.14 131.05 V132.59 M630.32 131.82 H633.97 M635.8 131.05 V132.59 M633.97 131.82 H637.63 M639.46 130.63 V132.32 M637.63 131.47 H641.28 M643.11 129.8 V131.76 M641.28 130.78 H644.94 M646.77 129.8 V131.76 M644.94 130.78 H648.6 M650.42 130.63 V132.32 M648.6 131.47 H652.25 M654.08 131.05 V132.59 M652.25 131.82 H655.91 M657.74 131.47 V132.86 M655.91 132.17 H659.56 M665.05 131.91 V133.11 M663.22 132.51 H666.88 M668.7 131.91 V133.11 M666.88 132.51 H670.53 M672.36 131.91 V133.11 M670.53 132.51 H674.19 M676.02 131.47 V132.86 M674.19 132.17 H677.84 M679.67 131.05 V132.59 M677.84 131.82 H681.5" stroke="#111" stroke-width="0.7" fill="none"/>
<g fill="#fff" stroke="#000" stroke-width="0.9"><circle cx="500.53" cy="122.27" r="1.4"/><circle cx="504.18" cy="123.86" r="1.4"/><circle cx="507.84" cy="119.92" r="1.4"/><circle cx="511.5" cy="107.67" r="1.4"/><circle cx="515.15" cy="111.13" r="1.4"/><circle cx="518.81" cy="104.21" r="1.4"/><circle cx="522.46" cy="105.77" r="1.4"/><circle cx="526.12" cy="87.22" r="1.4"/><circle cx="529.78" cy="98.71" r="1.4"/><circle cx="533.43" cy="88.33" r="1.4"/><circle cx="537.09" cy="91.48" r="1.4"/><circle cx="540.74" cy="80.96" r="1.4"/><circle cx="544.4" cy="90.37" r="1.4"/><circle cx="548.06" cy="81.65" r="1.4"/><circle cx="551.71" cy="81.65" r="1.4"/><circle cx="555.37" cy="94.31" r="1.4"/><circle cx="559.02" cy="97.15" r="1.4"/><circle cx="562.68" cy="99.82" r="1.4"/><circle cx="566.34" cy="110.33" r="1.4"/><circle cx="569.99" cy="108.81" r="1.4"/><circle cx="573.65" cy="119.88" r="1.4"/><circle cx="577.3" cy="117.77" r="1.4"/><circle cx="580.96" cy="120.06" r="1.4"/><circle cx="584.62" cy="127.84" r="1.4"/><circle cx="588.27" cy="126.15" r="1.4"/><circle cx="591.93" cy="126.28" r="1.4"/><circle cx="595.58" cy="126.98" r="1.4"/><circle cx="599.24" cy="127.84" r="1.4"/><circle cx="602.9" cy="128.01" r="1.4"/><circle cx="606.55" cy="128.36" r="1.4"/><circle cx="610.21" cy="130.09" r="1.4"/><circle cx="613.86" cy="130.33" r="1.4"/><circle cx="617.52" cy="130.44" r="1.4"/><circle cx="621.18" cy="131.13" r="1.4"/><circle cx="624.83" cy="131.47" r="1.4"/><circle cx="628.49" cy="131.47" r="1.4"/><circle cx="632.14" cy="131.82" r="1.4"/><circle cx="635.8" cy="131.82" r="1.4"/><circle cx="639.46" cy="131.47" r="1.4"/><circle cx="643.11" cy="130.78" r="1.4"/><circle cx="646.77" cy="130.78" r="1.4"/><circle cx="650.42" cy="131.47" r="1.4"/><circle cx="654.08" cy="131.82" r="1.4"/><circle cx="657.74" cy="132.17" r="1.4"/><circle cx="665.05" cy="132.51" r="1.4"/><circle cx="668.7" cy="132.51" r="1.4"/><circle cx="672.36" cy="132.51" r="1.4"/><circle cx="676.02" cy="132.17" r="1.4"/><circle cx="679.67" cy="131.82" r="1.4"/></g>
<path d="M606.2 42.6 h11.6 M606.2 48.7 h11.6 M612.1 41.1 v3 M612.1 47.2 v3" stroke="#111" stroke-width="0.6" fill="none"/>
<circle cx="612.1" cy="42.6" r="1.35" fill="#fff" stroke="#000" stroke-width="0.75"/>
<path d="M610.5 42.6 h3.2 M612.1 41.1 v3" stroke="#222" stroke-width="0.5" fill="none"/>
<circle cx="612.1" cy="48.7" r="1.45" fill="#000"/>
<rect x="606" y="52.6" width="12.2" height="4.4" fill="#cdcdcd"/>
<rect x="606" y="58.8" width="12.2" height="4.4" fill="#989898"/>
<g font-family='"Liberation Sans", sans-serif' font-size="5.25" fill="#222"><text x="620.8" y="44.4">SB data (loose)</text><text x="620.8" y="50.5">SB data (tight+<tspan font-style="italic">x</tspan>&gt;<tspan font-style="italic">x</tspan><tspan font-size="3.4" dy="1.1">0</tspan><tspan dy="-1.1">)</tspan></text><text x="620.8" y="56.6">Signal (loose)</text><text x="620.8" y="62.8">Signal (tight+<tspan font-style="italic">x</tspan>&gt;<tspan font-style="italic">x</tspan><tspan font-size="3.4" dy="1.1">0</tspan><tspan dy="-1.1">)</tspan></text></g>
<text x="608.7" y="13.9" font-family='"Liberation Sans", sans-serif' font-size="7.9" font-weight="bold" font-style="italic" fill="#000">ATLAS</text>
<path d="M609.2 26.1 l0.45 1.9 l0.55 -6.1 h4.9" stroke="#111" stroke-width="0.6" fill="none" stroke-linejoin="miter"/>
<text x="610.8" y="28" font-family='"Liberation Sans", sans-serif' font-size="8" fill="#111">s=8 TeV, 20.3 fb<tspan font-size="5.3" dy="-3.4">-1</tspan></text>
<text x="651" y="99.6" text-anchor="middle" font-family='"Liberation Serif", serif' font-size="14" font-weight="bold" fill="#000">(c)</text>
<path d="M33.6 319.7 L33.6 319.7 L35.78 319.7 L35.78 319.7 L37.95 319.7 L37.95 319.7 L40.13 319.7 L40.13 319.7 L42.31 319.7 L42.31 319.7 L44.49 319.7 L44.49 319.7 L46.66 319.7 L46.66 319.7 L48.84 319.7 L48.84 319.7 L51.02 319.7 L51.02 315.45 L53.2 315.45 L53.2 312.62 L55.37 312.62 L55.37 308.36 L57.55 308.36 L57.55 302.7 L59.73 302.7 L59.73 298.44 L61.91 298.44 L61.91 295.61 L64.08 295.61 L64.08 292.07 L66.26 292.07 L66.26 294.19 L68.44 294.19 L68.44 289.23 L70.62 289.23 L70.62 287.11 L72.79 287.11 L72.79 283.57 L74.97 283.57 L74.97 281.44 L77.15 281.44 L77.15 280.02 L79.33 280.02 L79.33 277.19 L81.5 277.19 L81.5 274.36 L83.68 274.36 L83.68 272.94 L85.86 272.94 L85.86 270.11 L88.03 270.11 L88.03 267.27 L90.21 267.27 L90.21 264.44 L92.39 264.44 L92.39 261.6 L94.57 261.6 L94.57 258.77 L96.74 258.77 L96.74 255.94 L98.92 255.94 L98.92 253.1 L101.1 253.1 L101.1 251.68 L103.28 251.68 L103.28 251.68 L105.45 251.68 L105.45 251.68 L107.63 251.68 L107.63 243.89 L109.81 243.89 L109.81 248.85 L111.99 248.85 L111.99 248.85 L114.16 248.85 L114.16 246.02 L116.34 246.02 L116.34 244.6 L118.52 244.6 L118.52 241.76 L120.7 241.76 L120.7 240.35 L122.87 240.35 L122.87 238.93 L125.05 238.93 L125.05 233.26 L127.23 233.26 L127.23 233.26 L129.4 233.26 L129.4 232.55 L131.58 232.55 L131.58 233.26 L133.76 233.26 L133.76 234.68 L135.94 234.68 L135.94 234.68 L138.11 234.68 L138.11 241.76 L140.29 241.76 L140.29 237.51 L142.47 237.51 L142.47 241.76 L144.65 241.76 L144.65 241.76 L146.82 241.76 L146.82 248.85 L149 248.85 L149 248.85 L151.18 248.85 L151.18 255.23 L153.36 255.23 L153.36 255.23 L155.53 255.23 L155.53 257.35 L157.71 257.35 L157.71 262.31 L159.89 262.31 L159.89 274.36 L162.07 274.36 L162.07 271.52 L164.24 271.52 L164.24 277.19 L166.42 277.19 L166.42 287.11 L168.6 287.11 L168.6 294.62 L170.78 294.62 L170.78 298.44 L172.95 298.44 L172.95 303.12 L175.13 303.12 L175.13 309.07 L177.31 309.07 L177.31 311.62 L179.48 311.62 L179.48 314.32 L181.66 314.32 L181.66 316.16 L183.84 316.16 L183.84 317.57 L186.02 317.57 L186.02 318.28 L188.19 318.28 L188.19 318.99 L190.37 318.99 L190.37 319.7 L192.55 319.7 L192.55 319.7 L194.73 319.7 L194.73 319.7 L196.9 319.7 L196.9 319.7 L199.08 319.7 L199.08 319.7 L201.26 319.7 L201.26 319.7 L203.44 319.7 L203.44 319.7 L205.61 319.7 L205.61 319.7 L207.79 319.7 L207.79 319.7 L209.97 319.7 L209.97 319.7 L212.15 319.7 L212.15 319.7 L214.32 319.7 L214.32 319.7 L216.5 319.7 L216.5 319.7 Z" fill="#cdcdcd"/>
<path d="M33.6 319.7 L33.6 319.7 L35.78 319.7 L35.78 319.7 L37.95 319.7 L37.95 319.7 L40.13 319.7 L40.13 319.7 L42.31 319.7 L42.31 319.7 L44.49 319.7 L44.49 319.7 L46.66 319.7 L46.66 319.7 L48.84 319.7 L48.84 319.7 L51.02 319.7 L51.02 319.7 L53.2 319.7 L53.2 319.7 L55.37 319.7 L55.37 319.7 L57.55 319.7 L57.55 319.7 L59.73 319.7 L59.73 308.36 L61.91 308.36 L61.91 308.36 L64.08 308.36 L64.08 307.09 L66.26 307.09 L66.26 307.09 L68.44 307.09 L68.44 305.1 L70.62 305.1 L70.62 305.1 L72.79 305.1 L72.79 305.1 L74.97 305.1 L74.97 299.86 L77.15 299.86 L77.15 299.86 L79.33 299.86 L79.33 296.6 L81.5 296.6 L81.5 296.6 L83.68 296.6 L83.68 295.19 L85.86 295.19 L85.86 295.19 L88.03 295.19 L88.03 295.19 L90.21 295.19 L90.21 295.19 L92.39 295.19 L92.39 291.36 L94.57 291.36 L94.57 291.36 L96.74 291.36 L96.74 289.94 L98.92 289.94 L98.92 289.94 L101.1 289.94 L101.1 289.94 L103.28 289.94 L103.28 289.94 L105.45 289.94 L105.45 285.98 L107.63 285.98 L107.63 285.98 L109.81 285.98 L109.81 288.53 L111.99 288.53 L111.99 288.53 L114.16 288.53 L114.16 282.01 L116.34 282.01 L116.34 282.01 L118.52 282.01 L118.52 282.01 L120.7 282.01 L120.7 282.01 L122.87 282.01 L122.87 282.01 L125.05 282.01 L125.05 280.02 L127.23 280.02 L127.23 280.02 L129.4 280.02 L129.4 280.02 L131.58 280.02 L131.58 281.44 L133.76 281.44 L133.76 284.7 L135.94 284.7 L135.94 284.7 L138.11 284.7 L138.11 284.7 L140.29 284.7 L140.29 283.42 L142.47 283.42 L142.47 283.42 L144.65 283.42 L144.65 287.96 L146.82 287.96 L146.82 287.96 L149 287.96 L149 291.36 L151.18 291.36 L151.18 291.36 L153.36 291.36 L153.36 294.62 L155.53 294.62 L155.53 294.62 L157.71 294.62 L157.71 297.88 L159.89 297.88 L159.89 297.88 L162.07 297.88 L162.07 301.14 L164.24 301.14 L164.24 301.14 L166.42 301.14 L166.42 304.4 L168.6 304.4 L168.6 307.09 L170.78 307.09 L170.78 309.07 L172.95 309.07 L172.95 311.06 L175.13 311.06 L175.13 312.33 L177.31 312.33 L177.31 314.32 L179.48 314.32 L179.48 316.87 L181.66 316.87 L181.66 318.28 L183.84 318.28 L183.84 319.7 L186.02 319.7 L186.02 319.7 L188.19 319.7 L188.19 319.7 L190.37 319.7 L190.37 319.7 L192.55 319.7 L192.55 319.7 L194.73 319.7 L194.73 319.7 L196.9 319.7 L196.9 319.7 L199.08 319.7 L199.08 319.7 L201.26 319.7 L201.26 319.7 L203.44 319.7 L203.44 319.7 L205.61 319.7 L205.61 319.7 L207.79 319.7 L207.79 319.7 L209.97 319.7 L209.97 319.7 L212.15 319.7 L212.15 319.7 L214.32 319.7 L214.32 319.7 L216.5 319.7 L216.5 319.7 Z" fill="#989898"/>
<path d="M33.6 319.7 v-3.9 M33.6 188.1 v3.9 M37.95 319.7 v-2 M37.95 188.1 v2 M42.31 319.7 v-2 M42.31 188.1 v2 M46.66 319.7 v-2 M46.66 188.1 v2 M51.02 319.7 v-3.9 M51.02 188.1 v3.9 M55.37 319.7 v-2 M55.37 188.1 v2 M59.73 319.7 v-2 M59.73 188.1 v2 M64.08 319.7 v-2 M64.08 188.1 v2 M68.44 319.7 v-3.9 M68.44 188.1 v3.9 M72.79 319.7 v-2 M72.79 188.1 v2 M77.15 319.7 v-2 M77.15 188.1 v2 M81.5 319.7 v-2 M81.5 188.1 v2 M85.86 319.7 v-3.9 M85.86 188.1 v3.9 M90.21 319.7 v-2 M90.21 188.1 v2 M94.57 319.7 v-2 M94.57 188.1 v2 M98.92 319.7 v-2 M98.92 188.1 v2 M103.28 319.7 v-3.9 M103.28 188.1 v3.9 M107.63 319.7 v-2 M107.63 188.1 v2 M111.99 319.7 v-2 M111.99 188.1 v2 M116.34 319.7 v-2 M116.34 188.1 v2 M120.7 319.7 v-3.9 M120.7 188.1 v3.9 M125.05 319.7 v-2 M125.05 188.1 v2 M129.4 319.7 v-2 M129.4 188.1 v2 M133.76 319.7 v-2 M133.76 188.1 v2 M138.11 319.7 v-3.9 M138.11 188.1 v3.9 M142.47 319.7 v-2 M142.47 188.1 v2 M146.82 319.7 v-2 M146.82 188.1 v2 M151.18 319.7 v-2 M151.18 188.1 v2 M155.53 319.7 v-3.9 M155.53 188.1 v3.9 M159.89 319.7 v-2 M159.89 188.1 v2 M164.24 319.7 v-2 M164.24 188.1 v2 M168.6 319.7 v-2 M168.6 188.1 v2 M172.95 319.7 v-3.9 M172.95 188.1 v3.9 M177.31 319.7 v-2 M177.31 188.1 v2 M181.66 319.7 v-2 M181.66 188.1 v2 M186.02 319.7 v-2 M186.02 188.1 v2 M190.37 319.7 v-3.9 M190.37 188.1 v3.9 M194.73 319.7 v-2 M194.73 188.1 v2 M199.08 319.7 v-2 M199.08 188.1 v2 M203.44 319.7 v-2 M203.44 188.1 v2 M207.79 319.7 v-3.9 M207.79 188.1 v3.9 M212.15 319.7 v-2 M212.15 188.1 v2 M216.5 319.7 v-2 M216.5 188.1 v2 M33.6 319.7 h5.3 M216.5 319.7 h-5.3 M33.6 316.87 h2.7 M216.5 316.87 h-2.7 M33.6 314.03 h2.7 M216.5 314.03 h-2.7 M33.6 311.2 h2.7 M216.5 311.2 h-2.7 M33.6 308.36 h2.7 M216.5 308.36 h-2.7 M33.6 305.53 h5.3 M216.5 305.53 h-5.3 M33.6 302.7 h2.7 M216.5 302.7 h-2.7 M33.6 299.86 h2.7 M216.5 299.86 h-2.7 M33.6 297.03 h2.7 M216.5 297.03 h-2.7 M33.6 294.19 h2.7 M216.5 294.19 h-2.7 M33.6 291.36 h5.3 M216.5 291.36 h-5.3 M33.6 288.53 h2.7 M216.5 288.53 h-2.7 M33.6 285.69 h2.7 M216.5 285.69 h-2.7 M33.6 282.86 h2.7 M216.5 282.86 h-2.7 M33.6 280.02 h2.7 M216.5 280.02 h-2.7 M33.6 277.19 h5.3 M216.5 277.19 h-5.3 M33.6 274.36 h2.7 M216.5 274.36 h-2.7 M33.6 271.52 h2.7 M216.5 271.52 h-2.7 M33.6 268.69 h2.7 M216.5 268.69 h-2.7 M33.6 265.85 h2.7 M216.5 265.85 h-2.7 M33.6 263.02 h5.3 M216.5 263.02 h-5.3 M33.6 260.19 h2.7 M216.5 260.19 h-2.7 M33.6 257.35 h2.7 M216.5 257.35 h-2.7 M33.6 254.52 h2.7 M216.5 254.52 h-2.7 M33.6 251.68 h2.7 M216.5 251.68 h-2.7 M33.6 248.85 h5.3 M216.5 248.85 h-5.3 M33.6 246.02 h2.7 M216.5 246.02 h-2.7 M33.6 243.18 h2.7 M216.5 243.18 h-2.7 M33.6 240.35 h2.7 M216.5 240.35 h-2.7 M33.6 237.51 h2.7 M216.5 237.51 h-2.7 M33.6 234.68 h5.3 M216.5 234.68 h-5.3 M33.6 231.85 h2.7 M216.5 231.85 h-2.7 M33.6 229.01 h2.7 M216.5 229.01 h-2.7 M33.6 226.18 h2.7 M216.5 226.18 h-2.7 M33.6 223.34 h2.7 M216.5 223.34 h-2.7 M33.6 220.51 h5.3 M216.5 220.51 h-5.3 M33.6 217.68 h2.7 M216.5 217.68 h-2.7 M33.6 214.84 h2.7 M216.5 214.84 h-2.7 M33.6 212.01 h2.7 M216.5 212.01 h-2.7 M33.6 209.17 h2.7 M216.5 209.17 h-2.7 M33.6 206.34 h5.3 M216.5 206.34 h-5.3 M33.6 203.51 h2.7 M216.5 203.51 h-2.7 M33.6 200.67 h2.7 M216.5 200.67 h-2.7 M33.6 197.84 h2.7 M216.5 197.84 h-2.7 M33.6 195 h2.7 M216.5 195 h-2.7 M33.6 192.17 h5.3 M216.5 192.17 h-5.3 M33.6 189.34 h2.7 M216.5 189.34 h-2.7" stroke="#000" stroke-width="0.9" fill="none"/>
<g font-family='"Liberation Sans", sans-serif' font-size="6.5" fill="#1a1a1a"><text x="33.6" y="329.2" text-anchor="middle">0</text><text x="51.02" y="329.2" text-anchor="middle">200</text><text x="68.44" y="329.2" text-anchor="middle">400</text><text x="85.86" y="329.2" text-anchor="middle">600</text><text x="103.28" y="329.2" text-anchor="middle">800</text><text x="120.7" y="329.2" text-anchor="middle">1000</text><text x="138.11" y="329.2" text-anchor="middle">1200</text><text x="155.53" y="329.2" text-anchor="middle">1400</text><text x="172.95" y="329.2" text-anchor="middle">1600</text><text x="190.37" y="329.2" text-anchor="middle">1800</text><text x="207.79" y="329.2" text-anchor="middle">2000</text><text x="29" y="322.7" text-anchor="end">0</text><text x="29" y="308.53" text-anchor="end">10</text><text x="29" y="294.36" text-anchor="end">20</text><text x="29" y="280.19" text-anchor="end">30</text><text x="29" y="266.02" text-anchor="end">40</text><text x="29" y="251.85" text-anchor="end">50</text><text x="29" y="237.68" text-anchor="end">60</text><text x="29" y="223.51" text-anchor="end">70</text><text x="29" y="209.34" text-anchor="end">80</text><text x="29" y="195.17" text-anchor="end">90</text></g>
<rect x="33.6" y="188.1" width="182.9" height="131.6" fill="none" stroke="#000" stroke-width="1.05"/>
<path d="M62.99 317.75 V319.7 M71.7 314.48 V318.68 M80.41 317.3 V319.7 M89.12 316.45 V319.55 M91.3 316.87 V319.7 M100.01 317.3 V319.7 M108.72 314.48 V318.68 M119.61 314.48 V318.68 M132.67 314.86 V318.87 M141.38 316.45 V319.55 M150.09 317.3 V319.7 M158.8 314.86 V318.87 M167.51 316.87 V319.7 M174.04 316.87 V319.7 M204.52 316.87 V319.7" stroke="#111" stroke-width="0.7" fill="none"/>
<g fill="#000"><circle cx="62.99" cy="318.85" r="1.3"/><circle cx="71.7" cy="316.58" r="1.3"/><circle cx="80.41" cy="318.57" r="1.3"/><circle cx="89.12" cy="318" r="1.3"/><circle cx="91.3" cy="318.28" r="1.3"/><circle cx="100.01" cy="318.57" r="1.3"/><circle cx="108.72" cy="316.58" r="1.3"/><circle cx="119.61" cy="316.58" r="1.3"/><circle cx="132.67" cy="316.87" r="1.3"/><circle cx="141.38" cy="318" r="1.3"/><circle cx="150.09" cy="318.57" r="1.3"/><circle cx="158.8" cy="316.87" r="1.3"/><circle cx="167.51" cy="318.28" r="1.3"/><circle cx="174.04" cy="318.28" r="1.3"/><circle cx="204.52" cy="318.28" r="1.3"/></g>
<path d="M52.11 296.33 V306.51 M54.29 228.69 V250.03 M56.46 200.1 V224.76 M58.64 210.46 V233.96 M60.82 213.31 V236.49 M62.99 222.65 V244.73 M65.17 243.84 V263.21 M67.35 243.39 V262.82 M69.53 240.8 V260.58 M71.7 240.65 V260.45 M73.88 254.06 V271.98 M76.06 249.78 V268.32 M78.24 271.44 V286.62 M80.41 255.43 V273.16 M82.59 255.43 V273.16 M84.77 234.59 V255.18 M86.95 280.63 V294.16 M89.12 262.18 V278.88 M91.3 245.21 V264.39 M93.48 258.65 V275.89 M95.66 250.09 V268.58 M97.83 266.8 V282.76 M100.01 258.96 V276.15 M102.19 264.64 V280.95 M104.36 282.04 V295.3 M106.54 252.68 V270.81 M108.72 254.06 V271.98 M110.9 250.09 V268.58 M113.07 258.65 V275.89 M115.25 226.87 V248.44 M117.43 243.39 V262.82 M119.61 236.1 V256.5 M121.78 223.7 V245.66 M123.96 243.69 V263.08 M126.14 255.43 V273.16 M128.32 237.77 V257.95 M130.49 260.49 V277.45 M132.67 260.49 V277.45 M134.85 251.16 V269.5 M137.03 251.16 V269.5 M139.2 251.16 V269.5 M141.38 245.52 V264.65 M143.56 268.19 V283.92 M145.74 271.13 V286.37 M147.91 260.8 V277.71 M150.09 276.88 V291.1 M152.27 269.74 V285.21 M154.44 287.07 V299.33 M156.62 286.44 V298.83 M158.8 284.87 V297.57 M160.98 283.76 V296.69 M163.15 289.29 V301.08 M165.33 294.56 V305.16 M167.51 287.07 V299.33 M169.69 288.66 V300.58 M171.86 294.56 V305.16 M174.04 299.09 V308.57 M176.22 302.86 V311.32 M178.4 300.56 V309.65 M180.57 297.46 V307.36 M182.75 300.56 V309.65 M184.93 304.36 V312.37 M187.11 305.19 V312.95 M189.28 307.9 V314.78 M191.46 309.97 V316.11 M193.64 312.45 V317.6 M195.81 313.18 V318 M197.99 312.99 V317.9 M200.17 314.86 V318.87 M202.35 314.86 V318.87" stroke="#111" stroke-width="0.7" fill="none"/>
<g fill="#fff" stroke="#000" stroke-width="0.9"><circle cx="52.11" cy="301.42" r="1.35"/><circle cx="54.29" cy="239.36" r="1.35"/><circle cx="56.46" cy="212.43" r="1.35"/><circle cx="58.64" cy="222.21" r="1.35"/><circle cx="60.82" cy="224.9" r="1.35"/><circle cx="62.99" cy="233.69" r="1.35"/><circle cx="65.17" cy="253.53" r="1.35"/><circle cx="67.35" cy="253.1" r="1.35"/><circle cx="69.53" cy="250.69" r="1.35"/><circle cx="71.7" cy="250.55" r="1.35"/><circle cx="73.88" cy="263.02" r="1.35"/><circle cx="76.06" cy="259.05" r="1.35"/><circle cx="78.24" cy="279.03" r="1.35"/><circle cx="80.41" cy="264.3" r="1.35"/><circle cx="82.59" cy="264.3" r="1.35"/><circle cx="84.77" cy="244.88" r="1.35"/><circle cx="86.95" cy="287.39" r="1.35"/><circle cx="89.12" cy="270.53" r="1.35"/><circle cx="91.3" cy="254.8" r="1.35"/><circle cx="93.48" cy="267.27" r="1.35"/><circle cx="95.66" cy="259.34" r="1.35"/><circle cx="97.83" cy="274.78" r="1.35"/><circle cx="100.01" cy="267.55" r="1.35"/><circle cx="102.19" cy="272.8" r="1.35"/><circle cx="104.36" cy="288.67" r="1.35"/><circle cx="106.54" cy="261.74" r="1.35"/><circle cx="108.72" cy="263.02" r="1.35"/><circle cx="110.9" cy="259.34" r="1.35"/><circle cx="113.07" cy="267.27" r="1.35"/><circle cx="115.25" cy="237.66" r="1.35"/><circle cx="117.43" cy="253.1" r="1.35"/><circle cx="119.61" cy="246.3" r="1.35"/><circle cx="121.78" cy="234.68" r="1.35"/><circle cx="123.96" cy="253.38" r="1.35"/><circle cx="126.14" cy="264.3" r="1.35"/><circle cx="128.32" cy="247.86" r="1.35"/><circle cx="130.49" cy="268.97" r="1.35"/><circle cx="132.67" cy="268.97" r="1.35"/><circle cx="134.85" cy="260.33" r="1.35"/><circle cx="137.03" cy="260.33" r="1.35"/><circle cx="139.2" cy="260.33" r="1.35"/><circle cx="141.38" cy="255.08" r="1.35"/><circle cx="143.56" cy="276.06" r="1.35"/><circle cx="145.74" cy="278.75" r="1.35"/><circle cx="147.91" cy="269.25" r="1.35"/><circle cx="150.09" cy="283.99" r="1.35"/><circle cx="152.27" cy="277.47" r="1.35"/><circle cx="154.44" cy="293.2" r="1.35"/><circle cx="156.62" cy="292.64" r="1.35"/><circle cx="158.8" cy="291.22" r="1.35"/><circle cx="160.98" cy="290.23" r="1.35"/><circle cx="163.15" cy="295.19" r="1.35"/><circle cx="165.33" cy="299.86" r="1.35"/><circle cx="167.51" cy="293.2" r="1.35"/><circle cx="169.69" cy="294.62" r="1.35"/><circle cx="171.86" cy="299.86" r="1.35"/><circle cx="174.04" cy="303.83" r="1.35"/><circle cx="176.22" cy="307.09" r="1.35"/><circle cx="178.4" cy="305.1" r="1.35"/><circle cx="180.57" cy="302.41" r="1.35"/><circle cx="182.75" cy="305.1" r="1.35"/><circle cx="184.93" cy="308.36" r="1.35"/><circle cx="187.11" cy="309.07" r="1.35"/><circle cx="189.28" cy="311.34" r="1.35"/><circle cx="191.46" cy="313.04" r="1.35"/><circle cx="193.64" cy="315.02" r="1.35"/><circle cx="195.81" cy="315.59" r="1.35"/><circle cx="197.99" cy="315.45" r="1.35"/><circle cx="200.17" cy="316.87" r="1.35"/><circle cx="202.35" cy="316.87" r="1.35"/></g>
<path d="M66 194.5 h11.6 M66 200.6 h11.6 M71.9 193 v3 M71.9 199.1 v3" stroke="#111" stroke-width="0.6" fill="none"/>
<circle cx="71.9" cy="194.5" r="1.35" fill="#fff" stroke="#000" stroke-width="0.75"/>
<path d="M70.3 194.5 h3.2 M71.9 193 v3" stroke="#222" stroke-width="0.5" fill="none"/>
<circle cx="71.9" cy="200.6" r="1.45" fill="#000"/>
<rect x="65.8" y="204.5" width="12.2" height="4.4" fill="#cdcdcd"/>
<rect x="65.8" y="210.7" width="12.2" height="4.4" fill="#989898"/>
<g font-family='"Liberation Sans", sans-serif' font-size="5.25" fill="#222"><text x="80.6" y="196.3">SB data (loose)</text><text x="80.6" y="202.4">SB data (tight+<tspan font-style="italic">x</tspan>&gt;<tspan font-style="italic">x</tspan><tspan font-size="3.4" dy="1.1">0</tspan><tspan dy="-1.1">)</tspan></text><text x="80.6" y="208.5">Signal (loose)</text><text x="80.6" y="214.7">Signal (tight+<tspan font-style="italic">x</tspan>&gt;<tspan font-style="italic">x</tspan><tspan font-size="3.4" dy="1.1">0</tspan><tspan dy="-1.1">)</tspan></text></g>
<text x="143.7" y="199.6" font-family='"Liberation Sans", sans-serif' font-size="7.9" font-weight="bold" font-style="italic" fill="#000">ATLAS</text>
<path d="M144.2 212.1 l0.45 1.9 l0.55 -6.1 h4.9" stroke="#111" stroke-width="0.6" fill="none" stroke-linejoin="miter"/>
<text x="145.8" y="214" font-family='"Liberation Sans", sans-serif' font-size="8" fill="#111">s=8 TeV, 20.3 fb<tspan font-size="5.3" dy="-3.4">-1</tspan></text>
<text x="186.2" y="286.7" text-anchor="middle" font-family='"Liberation Serif", serif' font-size="14" font-weight="bold" fill="#000">(d)</text>
<path d="M270.8 319.65 L270.8 319.65 L272.98 319.65 L272.98 319.65 L275.15 319.65 L275.15 319.65 L277.33 319.65 L277.33 319.65 L279.51 319.65 L279.51 319.65 L281.69 319.65 L281.69 319.65 L283.86 319.65 L283.86 319.65 L286.04 319.65 L286.04 319.65 L288.22 319.65 L288.22 319.65 L290.4 319.65 L290.4 319.65 L292.57 319.65 L292.57 319.65 L294.75 319.65 L294.75 309.98 L296.93 309.98 L296.93 304.58 L299.11 304.58 L299.11 304.58 L301.28 304.58 L301.28 304.58 L303.46 304.58 L303.46 304.58 L305.64 304.58 L305.64 304.58 L307.82 304.58 L307.82 304.58 L309.99 304.58 L309.99 299.9 L312.17 299.9 L312.17 299.9 L314.35 299.9 L314.35 299.9 L316.52 299.9 L316.52 296.68 L318.7 296.68 L318.7 296.68 L320.88 296.68 L320.88 296.68 L323.06 296.68 L323.06 296.68 L325.23 296.68 L325.23 292.73 L327.41 292.73 L327.41 292.73 L329.59 292.73 L329.59 288.7 L331.77 288.7 L331.77 292 L333.94 292 L333.94 292 L336.12 292 L336.12 286.6 L338.3 286.6 L338.3 286.6 L340.48 286.6 L340.48 286.6 L342.65 286.6 L342.65 286.6 L344.83 286.6 L344.83 282.98 L347.01 282.98 L347.01 282.98 L349.19 282.98 L349.19 282.98 L351.36 282.98 L351.36 282.98 L353.54 282.98 L353.54 280.16 L355.72 280.16 L355.72 280.16 L357.9 280.16 L357.9 276.53 L360.07 276.53 L360.07 276.53 L362.25 276.53 L362.25 276.53 L364.43 276.53 L364.43 279.75 L366.6 279.75 L366.6 279.75 L368.78 279.75 L368.78 279.75 L370.96 279.75 L370.96 275.32 L373.14 275.32 L373.14 275.32 L375.31 275.32 L375.31 275.32 L377.49 275.32 L377.49 275.32 L379.67 275.32 L379.67 275.32 L381.85 275.32 L381.85 275.32 L384.02 275.32 L384.02 270.24 L386.2 270.24 L386.2 270.24 L388.38 270.24 L388.38 270.24 L390.56 270.24 L390.56 270.24 L392.73 270.24 L392.73 270.24 L394.91 270.24 L394.91 274.51 L397.09 274.51 L397.09 282.57 L399.27 282.57 L399.27 278.14 L401.44 278.14 L401.44 284.19 L403.62 284.19 L403.62 287.73 L405.8 287.73 L405.8 291.44 L407.97 291.44 L407.98 295.47 L410.15 295.47 L410.15 307.88 L412.33 307.88 L412.33 311.83 L414.51 311.83 L414.51 319.65 L416.68 319.65 L416.68 319.65 L418.86 319.65 L418.86 319.65 L421.04 319.65 L421.04 319.65 L423.22 319.65 L423.22 319.65 L425.39 319.65 L425.39 319.65 L427.57 319.65 L427.57 319.65 L429.75 319.65 L429.75 319.65 L431.93 319.65 L431.93 319.65 L434.1 319.65 L434.1 319.65 L436.28 319.65 L436.28 319.65 L438.46 319.65 L438.46 319.65 L440.64 319.65 L440.64 319.65 L442.81 319.65 L442.81 319.65 L444.99 319.65 L444.99 319.65 L447.17 319.65 L447.17 319.65 L449.35 319.65 L449.35 319.65 L451.52 319.65 L451.52 319.65 L453.7 319.65 L453.7 319.65 Z" fill="#cdcdcd"/>
<path d="M270.8 319.65 L270.8 319.65 L272.98 319.65 L272.98 319.65 L275.15 319.65 L275.15 319.65 L277.33 319.65 L277.33 319.65 L279.51 319.65 L279.51 319.65 L281.69 319.65 L281.69 319.65 L283.86 319.65 L283.86 319.65 L286.04 319.65 L286.04 319.65 L288.22 319.65 L288.22 319.65 L290.4 319.65 L290.4 319.65 L292.57 319.65 L292.57 319.65 L294.75 319.65 L294.75 319.65 L296.93 319.65 L296.93 313.77 L299.11 313.77 L299.11 313.77 L301.28 313.77 L301.28 313.77 L303.46 313.77 L303.46 313.77 L305.64 313.77 L305.64 310.78 L307.82 310.78 L307.82 310.78 L309.99 310.78 L309.99 310.78 L312.17 310.78 L312.17 310.78 L314.35 310.78 L314.35 309.17 L316.52 309.17 L316.52 309.17 L318.7 309.17 L318.7 309.17 L320.88 309.17 L320.88 309.17 L323.06 309.17 L323.06 306.51 L325.23 306.51 L325.23 306.51 L327.41 306.51 L327.41 303.21 L329.59 303.21 L329.59 303.21 L331.77 303.21 L331.77 303.21 L333.94 303.21 L333.94 311.19 L336.12 311.19 L336.12 311.19 L338.3 311.19 L338.3 311.19 L340.48 311.19 L340.48 311.19 L342.65 311.19 L342.65 302.56 L344.83 302.56 L344.83 302.56 L347.01 302.56 L347.01 302.56 L349.19 302.56 L349.19 302.56 L351.36 302.56 L351.36 302.56 L353.54 302.56 L353.54 307.88 L355.72 307.88 L355.72 307.88 L357.9 307.88 L357.9 307.88 L360.07 307.88 L360.07 307.88 L362.25 307.88 L362.25 300.63 L364.43 300.63 L364.43 300.63 L366.6 300.63 L366.6 300.63 L368.78 300.63 L368.78 297.32 L370.96 297.32 L370.96 299.5 L373.14 299.5 L373.14 295.95 L375.31 295.95 L375.31 297.32 L377.49 297.32 L377.49 297.32 L379.67 297.32 L379.67 297.32 L381.85 297.32 L381.85 299.98 L384.02 299.98 L384.02 299.98 L386.2 299.98 L386.2 299.98 L388.38 299.98 L388.38 299.98 L390.56 299.98 L390.56 295.95 L392.73 295.95 L392.73 297.89 L394.91 297.89 L394.91 297.89 L397.09 297.89 L397.09 300.63 L399.27 300.63 L399.27 303.21 L401.44 303.21 L401.44 303.21 L403.62 303.21 L403.62 303.21 L405.8 303.21 L405.8 306.51 L407.97 306.51 L407.98 306.51 L410.15 306.51 L410.15 308.53 L412.33 308.53 L412.33 313.12 L414.51 313.12 L414.51 319.65 L416.68 319.65 L416.68 319.65 L418.86 319.65 L418.86 319.65 L421.04 319.65 L421.04 319.65 L423.22 319.65 L423.22 319.65 L425.39 319.65 L425.39 319.65 L427.57 319.65 L427.57 319.65 L429.75 319.65 L429.75 319.65 L431.93 319.65 L431.93 319.65 L434.1 319.65 L434.1 319.65 L436.28 319.65 L436.28 319.65 L438.46 319.65 L438.46 319.65 L440.64 319.65 L440.64 319.65 L442.81 319.65 L442.81 319.65 L444.99 319.65 L444.99 319.65 L447.17 319.65 L447.17 319.65 L449.35 319.65 L449.35 319.65 L451.52 319.65 L451.52 319.65 L453.7 319.65 L453.7 319.65 Z" fill="#989898"/>
<path d="M270.8 319.65 v-3.9 M270.8 188 v3.9 M275.15 319.65 v-2 M275.15 188 v2 M279.51 319.65 v-2 M279.51 188 v2 M283.86 319.65 v-2 M283.86 188 v2 M288.22 319.65 v-3.9 M288.22 188 v3.9 M292.57 319.65 v-2 M292.57 188 v2 M296.93 319.65 v-2 M296.93 188 v2 M301.28 319.65 v-2 M301.28 188 v2 M305.64 319.65 v-3.9 M305.64 188 v3.9 M309.99 319.65 v-2 M309.99 188 v2 M314.35 319.65 v-2 M314.35 188 v2 M318.7 319.65 v-2 M318.7 188 v2 M323.06 319.65 v-3.9 M323.06 188 v3.9 M327.41 319.65 v-2 M327.41 188 v2 M331.77 319.65 v-2 M331.77 188 v2 M336.12 319.65 v-2 M336.12 188 v2 M340.48 319.65 v-3.9 M340.48 188 v3.9 M344.83 319.65 v-2 M344.83 188 v2 M349.19 319.65 v-2 M349.19 188 v2 M353.54 319.65 v-2 M353.54 188 v2 M357.9 319.65 v-3.9 M357.9 188 v3.9 M362.25 319.65 v-2 M362.25 188 v2 M366.6 319.65 v-2 M366.6 188 v2 M370.96 319.65 v-2 M370.96 188 v2 M375.31 319.65 v-3.9 M375.31 188 v3.9 M379.67 319.65 v-2 M379.67 188 v2 M384.02 319.65 v-2 M384.02 188 v2 M388.38 319.65 v-2 M388.38 188 v2 M392.73 319.65 v-3.9 M392.73 188 v3.9 M397.09 319.65 v-2 M397.09 188 v2 M401.44 319.65 v-2 M401.44 188 v2 M405.8 319.65 v-2 M405.8 188 v2 M410.15 319.65 v-3.9 M410.15 188 v3.9 M414.51 319.65 v-2 M414.51 188 v2 M418.86 319.65 v-2 M418.86 188 v2 M423.22 319.65 v-2 M423.22 188 v2 M427.57 319.65 v-3.9 M427.57 188 v3.9 M431.93 319.65 v-2 M431.93 188 v2 M436.28 319.65 v-2 M436.28 188 v2 M440.64 319.65 v-2 M440.64 188 v2 M444.99 319.65 v-3.9 M444.99 188 v3.9 M449.35 319.65 v-2 M449.35 188 v2 M453.7 319.65 v-2 M453.7 188 v2 M270.8 319.65 h5.3 M453.7 319.65 h-5.3 M270.8 315.62 h2.7 M453.7 315.62 h-2.7 M270.8 311.59 h2.7 M453.7 311.59 h-2.7 M270.8 307.56 h2.7 M453.7 307.56 h-2.7 M270.8 303.53 h5.3 M453.7 303.53 h-5.3 M270.8 299.5 h2.7 M453.7 299.5 h-2.7 M270.8 295.47 h2.7 M453.7 295.47 h-2.7 M270.8 291.44 h2.7 M453.7 291.44 h-2.7 M270.8 287.41 h5.3 M453.7 287.41 h-5.3 M270.8 283.38 h2.7 M453.7 283.38 h-2.7 M270.8 279.35 h2.7 M453.7 279.35 h-2.7 M270.8 275.32 h2.7 M453.7 275.32 h-2.7 M270.8 271.29 h5.3 M453.7 271.29 h-5.3 M270.8 267.26 h2.7 M453.7 267.26 h-2.7 M270.8 263.23 h2.7 M453.7 263.23 h-2.7 M270.8 259.2 h2.7 M453.7 259.2 h-2.7 M270.8 255.17 h5.3 M453.7 255.17 h-5.3 M270.8 251.14 h2.7 M453.7 251.14 h-2.7 M270.8 247.11 h2.7 M453.7 247.11 h-2.7 M270.8 243.08 h2.7 M453.7 243.08 h-2.7 M270.8 239.05 h5.3 M453.7 239.05 h-5.3 M270.8 235.02 h2.7 M453.7 235.02 h-2.7 M270.8 230.99 h2.7 M453.7 230.99 h-2.7 M270.8 226.96 h2.7 M453.7 226.96 h-2.7 M270.8 222.93 h5.3 M453.7 222.93 h-5.3 M270.8 218.9 h2.7 M453.7 218.9 h-2.7 M270.8 214.87 h2.7 M453.7 214.87 h-2.7 M270.8 210.84 h2.7 M453.7 210.84 h-2.7 M270.8 206.81 h5.3 M453.7 206.81 h-5.3 M270.8 202.78 h2.7 M453.7 202.78 h-2.7 M270.8 198.75 h2.7 M453.7 198.75 h-2.7 M270.8 194.72 h2.7 M453.7 194.72 h-2.7 M270.8 190.69 h5.3 M453.7 190.69 h-5.3" stroke="#000" stroke-width="0.9" fill="none"/>
<g font-family='"Liberation Sans", sans-serif' font-size="6.5" fill="#1a1a1a"><text x="270.8" y="329.15" text-anchor="middle">0</text><text x="288.22" y="329.15" text-anchor="middle">200</text><text x="305.64" y="329.15" text-anchor="middle">400</text><text x="323.06" y="329.15" text-anchor="middle">600</text><text x="340.48" y="329.15" text-anchor="middle">800</text><text x="357.9" y="329.15" text-anchor="middle">1000</text><text x="375.31" y="329.15" text-anchor="middle">1200</text><text x="392.73" y="329.15" text-anchor="middle">1400</text><text x="410.15" y="329.15" text-anchor="middle">1600</text><text x="427.57" y="329.15" text-anchor="middle">1800</text><text x="444.99" y="329.15" text-anchor="middle">2000</text><text x="266.2" y="322.65" text-anchor="end">0</text><text x="266.2" y="306.53" text-anchor="end">20</text><text x="266.2" y="290.41" text-anchor="end">40</text><text x="266.2" y="274.29" text-anchor="end">60</text><text x="266.2" y="258.17" text-anchor="end">80</text><text x="266.2" y="242.05" text-anchor="end">100</text><text x="266.2" y="225.93" text-anchor="end">120</text><text x="266.2" y="209.81" text-anchor="end">140</text><text x="266.2" y="193.69" text-anchor="end">160</text></g>
<rect x="270.8" y="188" width="182.9" height="131.65" fill="none" stroke="#000" stroke-width="1.05"/>
<path d="M302.37 317.45 V319.43 M308.9 317.8 V319.57 M315.44 316.68 V319.07 M332.86 317.8 V319.57 M345.92 316.68 V319.07 M352.45 316.47 V318.96 M354.63 317.8 V319.57 M361.16 318.04 V319.65 M365.52 317.8 V319.57 M369.87 318.04 V319.65 M376.4 317.45 V319.43 M378.58 318.04 V319.65 M380.76 317.8 V319.57 M385.11 318.04 V319.65 M389.47 317.45 V319.43 M393.82 318.04 V319.65 M402.53 318.04 V319.65 M413.42 317.8 V319.57 M422.13 318.04 V319.65 M424.31 317.8 V319.57 M435.19 317.45 V319.43" stroke="#111" stroke-width="0.7" fill="none"/>
<g fill="#000"><circle cx="302.37" cy="318.44" r="1.3"/><circle cx="308.9" cy="318.68" r="1.3"/><circle cx="315.44" cy="317.88" r="1.3"/><circle cx="332.86" cy="318.68" r="1.3"/><circle cx="345.92" cy="317.88" r="1.3"/><circle cx="352.45" cy="317.72" r="1.3"/><circle cx="354.63" cy="318.68" r="1.3"/><circle cx="361.16" cy="318.84" r="1.3"/><circle cx="365.52" cy="318.68" r="1.3"/><circle cx="369.87" cy="318.84" r="1.3"/><circle cx="376.4" cy="318.44" r="1.3"/><circle cx="378.58" cy="318.84" r="1.3"/><circle cx="380.76" cy="318.68" r="1.3"/><circle cx="385.11" cy="318.84" r="1.3"/><circle cx="389.47" cy="318.44" r="1.3"/><circle cx="393.82" cy="318.84" r="1.3"/><circle cx="402.53" cy="318.84" r="1.3"/><circle cx="413.42" cy="318.68" r="1.3"/><circle cx="422.13" cy="318.84" r="1.3"/><circle cx="424.31" cy="318.68" r="1.3"/><circle cx="435.19" cy="318.44" r="1.3"/></g>
<path d="M291.49 311.3 V315.75 M293.66 300.37 V307.49 M295.84 309.32 V314.34 M298.02 308.58 V313.8 M300.19 307 V312.63 M302.37 302.53 V309.2 M304.55 302.99 V309.55 M306.73 305.53 V311.52 M308.9 303.98 V310.33 M311.08 304.8 V310.96 M313.26 305.53 V311.52 M315.44 309.04 V314.14 M317.61 309.32 V314.34 M319.79 307 V312.63 M321.97 300.37 V307.49 M324.15 303.98 V310.33 M326.32 301.09 V308.06 M328.5 295.91 V303.89 M330.68 293.08 V301.57 M332.86 298.14 V305.7 M335.03 292.38 V300.98 M337.21 274.51 V285.8 M339.39 272.79 V284.3 M341.56 281.44 V291.76 M343.74 290 V299 M345.92 299.57 V306.85 M348.1 296.71 V304.54 M350.27 289.3 V298.42 M352.45 268.48 V280.55 M354.63 282.75 V292.88 M356.81 258.45 V271.72 M358.98 199.96 V218.82 M361.16 217.47 V234.83 M363.34 260.08 V273.15 M365.52 262.9 V275.65 M367.69 276.24 V287.29 M369.87 274.6 V285.87 M372.05 274.17 V285.5 M374.23 274.17 V285.5 M376.4 260.08 V273.15 M378.58 268.48 V280.55 M380.76 263.59 V276.25 M382.94 267.11 V279.34 M385.11 284.05 V293.99 M387.29 276.24 V287.29 M389.47 268.48 V280.55 M391.64 276.93 V287.89 M393.82 271.32 V283.02 M396 282.75 V292.88 M398.18 288.6 V297.83 M400.35 295.2 V303.31 M402.53 293.79 V302.15 M404.71 272.01 V283.63 M406.89 296.36 V304.25 M409.06 296.36 V304.25 M411.24 285.89 V295.54 M413.42 292.38 V300.98 M415.6 292.38 V300.98 M417.77 296.71 V304.54 M419.95 305.17 V311.24 M422.13 298.14 V305.7 M424.31 307.74 V313.18 M426.48 305.53 V311.52 M428.66 309.32 V314.34 M430.84 314.81 V318.04 M433.01 313.23 V317.04 M435.19 314.81 V318.04 M439.55 317.8 V319.57" stroke="#111" stroke-width="0.7" fill="none"/>
<g fill="#fff" stroke="#000" stroke-width="0.9"><circle cx="291.49" cy="313.52" r="1.35"/><circle cx="293.66" cy="303.93" r="1.35"/><circle cx="295.84" cy="311.83" r="1.35"/><circle cx="298.02" cy="311.19" r="1.35"/><circle cx="300.19" cy="309.82" r="1.35"/><circle cx="302.37" cy="305.87" r="1.35"/><circle cx="304.55" cy="306.27" r="1.35"/><circle cx="306.73" cy="308.53" r="1.35"/><circle cx="308.9" cy="307.16" r="1.35"/><circle cx="311.08" cy="307.88" r="1.35"/><circle cx="313.26" cy="308.53" r="1.35"/><circle cx="315.44" cy="311.59" r="1.35"/><circle cx="317.61" cy="311.83" r="1.35"/><circle cx="319.79" cy="309.82" r="1.35"/><circle cx="321.97" cy="303.93" r="1.35"/><circle cx="324.15" cy="307.16" r="1.35"/><circle cx="326.32" cy="304.58" r="1.35"/><circle cx="328.5" cy="299.9" r="1.35"/><circle cx="330.68" cy="297.32" r="1.35"/><circle cx="332.86" cy="301.92" r="1.35"/><circle cx="335.03" cy="296.68" r="1.35"/><circle cx="337.21" cy="280.16" r="1.35"/><circle cx="339.39" cy="278.54" r="1.35"/><circle cx="341.56" cy="286.6" r="1.35"/><circle cx="343.74" cy="294.5" r="1.35"/><circle cx="345.92" cy="303.21" r="1.35"/><circle cx="348.1" cy="300.63" r="1.35"/><circle cx="350.27" cy="293.86" r="1.35"/><circle cx="352.45" cy="274.51" r="1.35"/><circle cx="354.63" cy="287.81" r="1.35"/><circle cx="356.81" cy="265.08" r="1.35"/><circle cx="358.98" cy="209.39" r="1.35"/><circle cx="361.16" cy="226.15" r="1.35"/><circle cx="363.34" cy="266.62" r="1.35"/><circle cx="365.52" cy="269.27" r="1.35"/><circle cx="367.69" cy="281.77" r="1.35"/><circle cx="369.87" cy="280.24" r="1.35"/><circle cx="372.05" cy="279.83" r="1.35"/><circle cx="374.23" cy="279.83" r="1.35"/><circle cx="376.4" cy="266.62" r="1.35"/><circle cx="378.58" cy="274.51" r="1.35"/><circle cx="380.76" cy="269.92" r="1.35"/><circle cx="382.94" cy="273.22" r="1.35"/><circle cx="385.11" cy="289.02" r="1.35"/><circle cx="387.29" cy="281.77" r="1.35"/><circle cx="389.47" cy="274.51" r="1.35"/><circle cx="391.64" cy="282.41" r="1.35"/><circle cx="393.82" cy="277.17" r="1.35"/><circle cx="396" cy="287.81" r="1.35"/><circle cx="398.18" cy="293.21" r="1.35"/><circle cx="400.35" cy="299.26" r="1.35"/><circle cx="402.53" cy="297.97" r="1.35"/><circle cx="404.71" cy="277.82" r="1.35"/><circle cx="406.89" cy="300.31" r="1.35"/><circle cx="409.06" cy="300.31" r="1.35"/><circle cx="411.24" cy="290.71" r="1.35"/><circle cx="413.42" cy="296.68" r="1.35"/><circle cx="415.6" cy="296.68" r="1.35"/><circle cx="417.77" cy="300.63" r="1.35"/><circle cx="419.95" cy="308.2" r="1.35"/><circle cx="422.13" cy="301.92" r="1.35"/><circle cx="424.31" cy="310.46" r="1.35"/><circle cx="426.48" cy="308.53" r="1.35"/><circle cx="428.66" cy="311.83" r="1.35"/><circle cx="430.84" cy="316.43" r="1.35"/><circle cx="433.01" cy="315.14" r="1.35"/><circle cx="435.19" cy="316.43" r="1.35"/><circle cx="439.55" cy="318.68" r="1.35"/></g>
<path d="M378.5 228.6 h11.6 M378.5 234.7 h11.6 M384.4 227.1 v3 M384.4 233.2 v3" stroke="#111" stroke-width="0.6" fill="none"/>
<circle cx="384.4" cy="228.6" r="1.35" fill="#fff" stroke="#000" stroke-width="0.75"/>
<path d="M382.8 228.6 h3.2 M384.4 227.1 v3" stroke="#222" stroke-width="0.5" fill="none"/>
<circle cx="384.4" cy="234.7" r="1.45" fill="#000"/>
<rect x="378.3" y="238.6" width="12.2" height="4.4" fill="#cdcdcd"/>
<rect x="378.3" y="244.8" width="12.2" height="4.4" fill="#989898"/>
<g font-family='"Liberation Sans", sans-serif' font-size="5.25" fill="#222"><text x="393.1" y="230.4">SB data (loose)</text><text x="393.1" y="236.5">SB data (tight+<tspan font-style="italic">x</tspan>&gt;<tspan font-style="italic">x</tspan><tspan font-size="3.4" dy="1.1">0</tspan><tspan dy="-1.1">)</tspan></text><text x="393.1" y="242.6">Signal (loose)</text><text x="393.1" y="248.8">Signal (tight+<tspan font-style="italic">x</tspan>&gt;<tspan font-style="italic">x</tspan><tspan font-size="3.4" dy="1.1">0</tspan><tspan dy="-1.1">)</tspan></text></g>
<text x="380.9" y="199.5" font-family='"Liberation Sans", sans-serif' font-size="7.9" font-weight="bold" font-style="italic" fill="#000">ATLAS</text>
<path d="M381.4 212.1 l0.45 1.9 l0.55 -6.1 h4.9" stroke="#111" stroke-width="0.6" fill="none" stroke-linejoin="miter"/>
<text x="383" y="214" font-family='"Liberation Sans", sans-serif' font-size="8" fill="#111">s=8 TeV, 20.3 fb<tspan font-size="5.3" dy="-3.4">-1</tspan></text>
<text x="422.8" y="286.5" text-anchor="middle" font-family='"Liberation Serif", serif' font-size="14" font-weight="bold" fill="#000">(e)</text>
<path d="M498.8 319.65 L498.8 319.65 L500.98 319.65 L500.98 319.65 L503.15 319.65 L503.15 319.65 L505.33 319.65 L505.32 319.65 L507.5 319.65 L507.5 319.65 L509.68 319.65 L509.68 319.65 L511.85 319.65 L511.85 319.65 L514.02 319.65 L514.02 319.65 L516.2 319.65 L516.2 319.65 L518.38 319.65 L518.38 309.81 L520.55 309.81 L520.55 303.22 L522.72 303.22 L522.73 303.22 L524.9 303.22 L524.9 293.38 L527.07 293.38 L527.08 293.38 L529.25 293.38 L529.25 294.7 L531.42 294.7 L531.42 294.7 L533.6 294.7 L533.6 294.7 L535.77 294.7 L535.77 294.7 L537.95 294.7 L537.95 288.73 L540.12 288.73 L540.12 288.73 L542.3 288.73 L542.3 288.73 L544.47 288.73 L544.48 282.14 L546.65 282.14 L546.65 282.14 L548.82 282.14 L548.83 282.14 L551 282.14 L551 279.5 L553.17 279.5 L553.17 279.5 L555.35 279.5 L555.35 279.5 L557.52 279.5 L557.52 270.45 L559.7 270.45 L559.7 270.45 L561.88 270.45 L561.88 267.03 L564.05 267.03 L564.05 267.03 L566.22 267.03 L566.23 270.45 L568.4 270.45 L568.4 270.45 L570.57 270.45 L570.58 265.18 L572.75 265.18 L572.75 265.18 L574.92 265.18 L574.92 257.89 L577.1 257.89 L577.1 262.55 L579.27 262.55 L579.27 264.3 L581.45 264.3 L581.45 259.91 L583.62 259.91 L583.62 266.5 L585.8 266.5 L585.8 266.5 L587.97 266.5 L587.98 262.55 L590.15 262.55 L590.15 267.82 L592.32 267.82 L592.33 267.82 L594.5 267.82 L594.5 267.82 L596.67 267.82 L596.67 272.39 L598.85 272.39 L598.85 274.41 L601.02 274.41 L601.02 274.41 L603.2 274.41 L603.2 274.41 L605.38 274.41 L605.38 274.41 L607.55 274.41 L607.55 281.61 L609.72 281.61 L609.73 287.41 L611.9 287.41 L611.9 296.02 L614.07 296.02 L614.08 296.02 L616.25 296.02 L616.25 302.61 L618.42 302.61 L618.42 302.61 L620.6 302.61 L620.6 302.61 L622.77 302.61 L622.77 309.2 L624.95 309.2 L624.95 309.2 L627.12 309.2 L627.12 309.2 L629.3 309.2 L629.3 313.15 L631.47 313.15 L631.48 313.15 L633.65 313.15 L633.65 315.78 L635.82 315.78 L635.83 319.65 L638 319.65 L638 319.65 L640.17 319.65 L640.17 319.65 L642.35 319.65 L642.35 319.65 L644.52 319.65 L644.52 319.65 L646.7 319.65 L646.7 319.65 L648.88 319.65 L648.88 319.65 L651.05 319.65 L651.05 319.65 L653.22 319.65 L653.23 319.65 L655.4 319.65 L655.4 319.65 L657.57 319.65 L657.58 319.65 L659.75 319.65 L659.75 319.65 L661.92 319.65 L661.92 319.65 L664.1 319.65 L664.1 319.65 L666.27 319.65 L666.27 319.65 L668.45 319.65 L668.45 319.65 L670.62 319.65 L670.62 319.65 L672.8 319.65 L672.8 319.65 L674.97 319.65 L674.98 319.65 L677.15 319.65 L677.15 319.65 L679.32 319.65 L679.33 319.65 L681.5 319.65 L681.5 319.65 Z" fill="#cdcdcd"/>
<path d="M498.8 319.65 L498.8 319.65 L500.98 319.65 L500.98 319.65 L503.15 319.65 L503.15 319.65 L505.33 319.65 L505.32 319.65 L507.5 319.65 L507.5 319.65 L509.68 319.65 L509.68 319.65 L511.85 319.65 L511.85 319.65 L514.02 319.65 L514.02 319.65 L516.2 319.65 L516.2 319.65 L518.38 319.65 L518.38 319.65 L520.55 319.65 L520.55 319.65 L522.72 319.65 L522.73 319.65 L524.9 319.65 L524.9 306.56 L527.07 306.56 L527.08 306.56 L529.25 306.56 L529.25 304.54 L531.42 304.54 L531.42 304.54 L533.6 304.54 L533.6 304.54 L535.77 304.54 L535.77 304.54 L537.95 304.54 L537.95 305.59 L540.12 305.59 L540.12 305.59 L542.3 305.59 L542.3 301.29 L544.47 301.29 L544.48 301.29 L546.65 301.29 L546.65 301.29 L548.82 301.29 L548.83 299.27 L551 299.27 L551 299.27 L553.17 299.27 L553.17 299.27 L555.35 299.27 L555.35 299.27 L557.52 299.27 L557.52 292.68 L559.7 292.68 L559.7 292.68 L561.88 292.68 L561.88 304.54 L564.05 304.54 L564.05 304.54 L566.22 304.54 L566.23 304.54 L568.4 304.54 L568.4 304.54 L570.57 304.54 L570.58 293.38 L572.75 293.38 L572.75 284.77 L574.92 284.77 L574.92 284.77 L577.1 284.77 L577.1 292.07 L579.27 292.07 L579.27 292.07 L581.45 292.07 L581.45 292.07 L583.62 292.07 L583.62 307.18 L585.8 307.18 L585.8 307.18 L587.97 307.18 L587.98 307.18 L590.15 307.18 L590.15 304.72 L592.32 304.72 L592.33 296.02 L594.5 296.02 L594.5 293.38 L596.67 293.38 L596.67 296.63 L598.85 296.63 L598.85 296.63 L601.02 296.63 L601.02 298.13 L603.2 298.13 L603.2 300.59 L605.38 300.59 L605.38 300.59 L607.55 300.59 L607.55 303.22 L609.72 303.22 L609.73 307.18 L611.9 307.18 L611.9 307.18 L614.07 307.18 L614.08 307.18 L616.25 307.18 L616.25 309.81 L618.42 309.81 L618.42 309.81 L620.6 309.81 L620.6 311.83 L622.77 311.83 L622.77 311.83 L624.95 311.83 L624.95 314.47 L627.12 314.47 L627.12 314.47 L629.3 314.47 L629.3 316.4 L631.47 316.4 L631.48 316.4 L633.65 316.4 L633.65 319.65 L635.82 319.65 L635.83 319.65 L638 319.65 L638 319.65 L640.17 319.65 L640.17 319.65 L642.35 319.65 L642.35 319.65 L644.52 319.65 L644.52 319.65 L646.7 319.65 L646.7 319.65 L648.88 319.65 L648.88 319.65 L651.05 319.65 L651.05 319.65 L653.22 319.65 L653.23 319.65 L655.4 319.65 L655.4 319.65 L657.57 319.65 L657.58 319.65 L659.75 319.65 L659.75 319.65 L661.92 319.65 L661.92 319.65 L664.1 319.65 L664.1 319.65 L666.27 319.65 L666.27 319.65 L668.45 319.65 L668.45 319.65 L670.62 319.65 L670.62 319.65 L672.8 319.65 L672.8 319.65 L674.97 319.65 L674.98 319.65 L677.15 319.65 L677.15 319.65 L679.32 319.65 L679.33 319.65 L681.5 319.65 L681.5 319.65 Z" fill="#989898"/>
<path d="M498.8 319.65 v-3.9 M498.8 188.3 v3.9 M503.15 319.65 v-2 M503.15 188.3 v2 M507.5 319.65 v-2 M507.5 188.3 v2 M511.85 319.65 v-2 M511.85 188.3 v2 M516.2 319.65 v-3.9 M516.2 188.3 v3.9 M520.55 319.65 v-2 M520.55 188.3 v2 M524.9 319.65 v-2 M524.9 188.3 v2 M529.25 319.65 v-2 M529.25 188.3 v2 M533.6 319.65 v-3.9 M533.6 188.3 v3.9 M537.95 319.65 v-2 M537.95 188.3 v2 M542.3 319.65 v-2 M542.3 188.3 v2 M546.65 319.65 v-2 M546.65 188.3 v2 M551 319.65 v-3.9 M551 188.3 v3.9 M555.35 319.65 v-2 M555.35 188.3 v2 M559.7 319.65 v-2 M559.7 188.3 v2 M564.05 319.65 v-2 M564.05 188.3 v2 M568.4 319.65 v-3.9 M568.4 188.3 v3.9 M572.75 319.65 v-2 M572.75 188.3 v2 M577.1 319.65 v-2 M577.1 188.3 v2 M581.45 319.65 v-2 M581.45 188.3 v2 M585.8 319.65 v-3.9 M585.8 188.3 v3.9 M590.15 319.65 v-2 M590.15 188.3 v2 M594.5 319.65 v-2 M594.5 188.3 v2 M598.85 319.65 v-2 M598.85 188.3 v2 M603.2 319.65 v-3.9 M603.2 188.3 v3.9 M607.55 319.65 v-2 M607.55 188.3 v2 M611.9 319.65 v-2 M611.9 188.3 v2 M616.25 319.65 v-2 M616.25 188.3 v2 M620.6 319.65 v-3.9 M620.6 188.3 v3.9 M624.95 319.65 v-2 M624.95 188.3 v2 M629.3 319.65 v-2 M629.3 188.3 v2 M633.65 319.65 v-2 M633.65 188.3 v2 M638 319.65 v-3.9 M638 188.3 v3.9 M642.35 319.65 v-2 M642.35 188.3 v2 M646.7 319.65 v-2 M646.7 188.3 v2 M651.05 319.65 v-2 M651.05 188.3 v2 M655.4 319.65 v-3.9 M655.4 188.3 v3.9 M659.75 319.65 v-2 M659.75 188.3 v2 M664.1 319.65 v-2 M664.1 188.3 v2 M668.45 319.65 v-2 M668.45 188.3 v2 M672.8 319.65 v-3.9 M672.8 188.3 v3.9 M677.15 319.65 v-2 M677.15 188.3 v2 M681.5 319.65 v-2 M681.5 188.3 v2 M498.8 319.65 h5.3 M681.5 319.65 h-5.3 M498.8 315.26 h2.7 M681.5 315.26 h-2.7 M498.8 310.86 h2.7 M681.5 310.86 h-2.7 M498.8 306.47 h2.7 M681.5 306.47 h-2.7 M498.8 302.08 h5.3 M681.5 302.08 h-5.3 M498.8 297.69 h2.7 M681.5 297.69 h-2.7 M498.8 293.29 h2.7 M681.5 293.29 h-2.7 M498.8 288.9 h2.7 M681.5 288.9 h-2.7 M498.8 284.51 h5.3 M681.5 284.51 h-5.3 M498.8 280.12 h2.7 M681.5 280.12 h-2.7 M498.8 275.72 h2.7 M681.5 275.72 h-2.7 M498.8 271.33 h2.7 M681.5 271.33 h-2.7 M498.8 266.94 h5.3 M681.5 266.94 h-5.3 M498.8 262.55 h2.7 M681.5 262.55 h-2.7 M498.8 258.15 h2.7 M681.5 258.15 h-2.7 M498.8 253.76 h2.7 M681.5 253.76 h-2.7 M498.8 249.37 h5.3 M681.5 249.37 h-5.3 M498.8 244.98 h2.7 M681.5 244.98 h-2.7 M498.8 240.58 h2.7 M681.5 240.58 h-2.7 M498.8 236.19 h2.7 M681.5 236.19 h-2.7 M498.8 231.8 h5.3 M681.5 231.8 h-5.3 M498.8 227.41 h2.7 M681.5 227.41 h-2.7 M498.8 223.01 h2.7 M681.5 223.01 h-2.7 M498.8 218.62 h2.7 M681.5 218.62 h-2.7 M498.8 214.23 h5.3 M681.5 214.23 h-5.3 M498.8 209.84 h2.7 M681.5 209.84 h-2.7 M498.8 205.44 h2.7 M681.5 205.44 h-2.7 M498.8 201.05 h2.7 M681.5 201.05 h-2.7 M498.8 196.66 h5.3 M681.5 196.66 h-5.3 M498.8 192.27 h2.7 M681.5 192.27 h-2.7" stroke="#000" stroke-width="0.9" fill="none"/>
<g font-family='"Liberation Sans", sans-serif' font-size="6.5" fill="#1a1a1a"><text x="498.8" y="329.15" text-anchor="middle">0</text><text x="516.2" y="329.15" text-anchor="middle">200</text><text x="533.6" y="329.15" text-anchor="middle">400</text><text x="551" y="329.15" text-anchor="middle">600</text><text x="568.4" y="329.15" text-anchor="middle">800</text><text x="585.8" y="329.15" text-anchor="middle">1000</text><text x="603.2" y="329.15" text-anchor="middle">1200</text><text x="620.6" y="329.15" text-anchor="middle">1400</text><text x="638" y="329.15" text-anchor="middle">1600</text><text x="655.4" y="329.15" text-anchor="middle">1800</text><text x="672.8" y="329.15" text-anchor="middle">2000</text><text x="494.2" y="322.65" text-anchor="end">0</text><text x="494.2" y="305.08" text-anchor="end">20</text><text x="494.2" y="287.51" text-anchor="end">40</text><text x="494.2" y="269.94" text-anchor="end">60</text><text x="494.2" y="252.37" text-anchor="end">80</text><text x="494.2" y="234.8" text-anchor="end">100</text><text x="494.2" y="217.23" text-anchor="end">120</text><text x="494.2" y="199.66" text-anchor="end">140</text></g>
<rect x="498.8" y="188.3" width="182.7" height="131.35" fill="none" stroke="#000" stroke-width="1.05"/>
<path d="M525.99 317.63 V319.56 M528.16 317.26 V319.41 M534.69 317.26 V319.41 M541.21 317.89 V319.65 M545.56 317.89 V319.65 M549.91 317.26 V319.41 M552.09 316.65 V319.14 M554.26 316.65 V319.14 M556.44 317.26 V319.41 M558.61 317.26 V319.41 M560.79 317.63 V319.56 M565.14 317.63 V319.56 M571.66 316.65 V319.14 M573.84 316.06 V318.84 M576.01 316.65 V319.14 M580.36 316.65 V319.14 M582.54 316.06 V318.84 M586.89 317.89 V319.65 M591.24 317.89 V319.65 M595.59 317.26 V319.41 M597.76 316.65 V319.14 M599.94 317.26 V319.41 M604.29 316.65 V319.14 M610.81 317.26 V319.41 M615.16 317.89 V319.65 M619.51 317.89 V319.65 M623.86 316.65 V319.14 M626.04 316.65 V319.14" stroke="#111" stroke-width="0.7" fill="none"/>
<g fill="#000"><circle cx="525.99" cy="318.6" r="1.3"/><circle cx="528.16" cy="318.33" r="1.3"/><circle cx="534.69" cy="318.33" r="1.3"/><circle cx="541.21" cy="318.77" r="1.3"/><circle cx="545.56" cy="318.77" r="1.3"/><circle cx="549.91" cy="318.33" r="1.3"/><circle cx="552.09" cy="317.89" r="1.3"/><circle cx="554.26" cy="317.89" r="1.3"/><circle cx="556.44" cy="318.33" r="1.3"/><circle cx="558.61" cy="318.33" r="1.3"/><circle cx="560.79" cy="318.6" r="1.3"/><circle cx="565.14" cy="318.6" r="1.3"/><circle cx="571.66" cy="317.89" r="1.3"/><circle cx="573.84" cy="317.45" r="1.3"/><circle cx="576.01" cy="317.89" r="1.3"/><circle cx="580.36" cy="317.89" r="1.3"/><circle cx="582.54" cy="317.45" r="1.3"/><circle cx="586.89" cy="318.77" r="1.3"/><circle cx="591.24" cy="318.77" r="1.3"/><circle cx="595.59" cy="318.33" r="1.3"/><circle cx="597.76" cy="317.89" r="1.3"/><circle cx="599.94" cy="318.33" r="1.3"/><circle cx="604.29" cy="317.89" r="1.3"/><circle cx="610.81" cy="318.33" r="1.3"/><circle cx="615.16" cy="318.77" r="1.3"/><circle cx="619.51" cy="318.77" r="1.3"/><circle cx="623.86" cy="317.89" r="1.3"/><circle cx="626.04" cy="317.89" r="1.3"/></g>
<path d="M517.29 315.49 V318.54 M519.46 292.91 V301.76 M521.64 291.46 V300.57 M523.81 287.81 V297.55 M525.99 295.52 V303.89 M528.16 290.02 V299.38 M530.34 284.56 V294.82 M532.51 292.14 V301.13 M534.69 291.17 V300.34 M536.86 291.75 V300.81 M539.04 288.58 V298.19 M541.21 296.98 V305.07 M543.39 295.52 V303.89 M545.56 280.66 V291.52 M547.74 280.66 V291.52 M549.91 288.58 V298.19 M552.09 290.69 V299.94 M554.26 276.02 V287.55 M556.44 280.28 V291.2 M558.61 280.28 V291.2 M560.79 283.51 V293.94 M562.96 283.13 V293.62 M565.14 260.32 V273.91 M567.31 244.58 V259.96 M569.49 278.95 V290.07 M571.66 266.69 V279.49 M573.84 269.98 V282.35 M576.01 274.22 V286.01 M578.19 264.82 V277.85 M580.36 266.69 V279.49 M582.54 264.16 V277.27 M584.71 231.79 V248.5 M586.89 200.11 V219.74 M589.06 215.73 V233.99 M591.24 252.95 V267.4 M593.41 258.08 V271.94 M595.59 253.32 V267.73 M597.76 272.43 V284.46 M599.94 273.94 V285.77 M602.11 277.06 V288.45 M604.29 273.66 V285.52 M606.46 270.45 V282.75 M608.64 280.38 V291.28 M610.81 273.28 V285.2 M612.99 287.81 V297.55 M615.16 296.49 V304.68 M617.34 292.91 V301.76 M619.51 297.96 V305.85 M621.69 295.81 V304.13 M623.86 297.96 V305.85 M626.04 298.74 V306.48 M628.21 296.49 V304.68 M630.39 295.52 V303.89 M632.56 305.36 V311.62 M634.74 303.17 V309.95 M636.91 301.98 V309.03 M639.09 309.93 V314.96 M641.26 312.33 V316.6 M643.44 317.01 V319.3 M645.61 317.26 V319.41 M647.79 317.26 V319.41 M649.96 317.26 V319.41 M652.14 317.26 V319.41 M654.31 317.26 V319.41 M656.49 317.63 V319.56 M658.66 317.89 V319.65" stroke="#111" stroke-width="0.7" fill="none"/>
<g fill="#fff" stroke="#000" stroke-width="0.9"><circle cx="517.29" cy="317.01" r="1.35"/><circle cx="519.46" cy="297.34" r="1.35"/><circle cx="521.64" cy="296.02" r="1.35"/><circle cx="523.81" cy="292.68" r="1.35"/><circle cx="525.99" cy="299.71" r="1.35"/><circle cx="528.16" cy="294.7" r="1.35"/><circle cx="530.34" cy="289.69" r="1.35"/><circle cx="532.51" cy="296.63" r="1.35"/><circle cx="534.69" cy="295.75" r="1.35"/><circle cx="536.86" cy="296.28" r="1.35"/><circle cx="539.04" cy="293.38" r="1.35"/><circle cx="541.21" cy="301.03" r="1.35"/><circle cx="543.39" cy="299.71" r="1.35"/><circle cx="545.56" cy="286.09" r="1.35"/><circle cx="547.74" cy="286.09" r="1.35"/><circle cx="549.91" cy="293.38" r="1.35"/><circle cx="552.09" cy="295.32" r="1.35"/><circle cx="554.26" cy="281.79" r="1.35"/><circle cx="556.44" cy="285.74" r="1.35"/><circle cx="558.61" cy="285.74" r="1.35"/><circle cx="560.79" cy="288.73" r="1.35"/><circle cx="562.96" cy="288.38" r="1.35"/><circle cx="565.14" cy="267.12" r="1.35"/><circle cx="567.31" cy="252.27" r="1.35"/><circle cx="569.49" cy="284.51" r="1.35"/><circle cx="571.66" cy="273.09" r="1.35"/><circle cx="573.84" cy="276.16" r="1.35"/><circle cx="576.01" cy="280.12" r="1.35"/><circle cx="578.19" cy="271.33" r="1.35"/><circle cx="580.36" cy="273.09" r="1.35"/><circle cx="582.54" cy="270.72" r="1.35"/><circle cx="584.71" cy="240.15" r="1.35"/><circle cx="586.89" cy="209.93" r="1.35"/><circle cx="589.06" cy="224.86" r="1.35"/><circle cx="591.24" cy="260.18" r="1.35"/><circle cx="593.41" cy="265.01" r="1.35"/><circle cx="595.59" cy="260.53" r="1.35"/><circle cx="597.76" cy="278.45" r="1.35"/><circle cx="599.94" cy="279.85" r="1.35"/><circle cx="602.11" cy="282.75" r="1.35"/><circle cx="604.29" cy="279.59" r="1.35"/><circle cx="606.46" cy="276.6" r="1.35"/><circle cx="608.64" cy="285.83" r="1.35"/><circle cx="610.81" cy="279.24" r="1.35"/><circle cx="612.99" cy="292.68" r="1.35"/><circle cx="615.16" cy="300.59" r="1.35"/><circle cx="617.34" cy="297.34" r="1.35"/><circle cx="619.51" cy="301.9" r="1.35"/><circle cx="621.69" cy="299.97" r="1.35"/><circle cx="623.86" cy="301.9" r="1.35"/><circle cx="626.04" cy="302.61" r="1.35"/><circle cx="628.21" cy="300.59" r="1.35"/><circle cx="630.39" cy="299.71" r="1.35"/><circle cx="632.56" cy="308.49" r="1.35"/><circle cx="634.74" cy="306.56" r="1.35"/><circle cx="636.91" cy="305.51" r="1.35"/><circle cx="639.09" cy="312.45" r="1.35"/><circle cx="641.26" cy="314.47" r="1.35"/><circle cx="643.44" cy="318.16" r="1.35"/><circle cx="645.61" cy="318.33" r="1.35"/><circle cx="647.79" cy="318.33" r="1.35"/><circle cx="649.96" cy="318.33" r="1.35"/><circle cx="652.14" cy="318.33" r="1.35"/><circle cx="654.31" cy="318.33" r="1.35"/><circle cx="656.49" cy="318.6" r="1.35"/><circle cx="658.66" cy="318.77" r="1.35"/></g>
<path d="M606.2 229.3 h11.6 M606.2 235.4 h11.6 M612.1 227.8 v3 M612.1 233.9 v3" stroke="#111" stroke-width="0.6" fill="none"/>
<circle cx="612.1" cy="229.3" r="1.35" fill="#fff" stroke="#000" stroke-width="0.75"/>
<path d="M610.5 229.3 h3.2 M612.1 227.8 v3" stroke="#222" stroke-width="0.5" fill="none"/>
<circle cx="612.1" cy="235.4" r="1.45" fill="#000"/>
<rect x="606" y="239.3" width="12.2" height="4.4" fill="#cdcdcd"/>
<rect x="606" y="245.5" width="12.2" height="4.4" fill="#989898"/>
<g font-family='"Liberation Sans", sans-serif' font-size="5.25" fill="#222"><text x="620.8" y="231.1">SB data (loose)</text><text x="620.8" y="237.2">SB data (tight+<tspan font-style="italic">x</tspan>&gt;<tspan font-style="italic">x</tspan><tspan font-size="3.4" dy="1.1">0</tspan><tspan dy="-1.1">)</tspan></text><text x="620.8" y="243.3">Signal (loose)</text><text x="620.8" y="249.5">Signal (tight+<tspan font-style="italic">x</tspan>&gt;<tspan font-style="italic">x</tspan><tspan font-size="3.4" dy="1.1">0</tspan><tspan dy="-1.1">)</tspan></text></g>
<text x="608.7" y="199.8" font-family='"Liberation Sans", sans-serif' font-size="7.9" font-weight="bold" font-style="italic" fill="#000">ATLAS</text>
<path d="M609.2 212.1 l0.45 1.9 l0.55 -6.1 h4.9" stroke="#111" stroke-width="0.6" fill="none" stroke-linejoin="miter"/>
<text x="610.8" y="214" font-family='"Liberation Sans", sans-serif' font-size="8" fill="#111">s=8 TeV, 20.3 fb<tspan font-size="5.3" dy="-3.4">-1</tspan></text>
<text x="649.8" y="287.2" text-anchor="middle" font-family='"Liberation Serif", serif' font-size="14" font-weight="bold" fill="#000">(f)</text>
<text transform="translate(10.4 79.9) rotate(-90)" font-family='"Liberation Sans", sans-serif' font-size="11.0" fill="#000" word-spacing="1.9">Events / (<tspan font-family='"Liberation Serif", serif' font-style="italic" font-size="11.5">π</tspan>/32)</text>
<text transform="translate(244.6 79.9) rotate(-90)" font-family='"Liberation Sans", sans-serif' font-size="11.0" fill="#000" word-spacing="1.9">Events / (<tspan font-family='"Liberation Serif", serif' font-style="italic" font-size="11.5">π</tspan>/32)</text>
<text transform="translate(477.5 66.8) rotate(-90)" font-family='"Liberation Sans", sans-serif' font-size="10.8" fill="#000" word-spacing="1.6">Events / 0.02</text>
<text transform="translate(10.6 273.1) rotate(-90)" font-family='"Liberation Sans", sans-serif' font-size="10.8" fill="#000" word-spacing="1">Events / 25 MeV</text>
<text transform="translate(243.5 276.5) rotate(-90)" font-family='"Liberation Sans", sans-serif' font-size="10.8" fill="#000" word-spacing="1">Events / 25 MeV</text>
<text transform="translate(477 276.5) rotate(-90)" font-family='"Liberation Sans", sans-serif' font-size="10.8" fill="#000" word-spacing="1">Events / 25 MeV</text>
<text x="192.9" y="161.4" font-family='"Liberation Serif", serif' font-size="11.2" fill="#111">Δ<tspan font-style="italic" font-size="12" dy="0.7">ϕ</tspan></text>
<text x="206.6" y="156.6" font-family='"Liberation Sans", sans-serif' font-size="7.2" fill="#111">cal</text>
<text x="207.3" y="167" font-family='"Liberation Serif", serif' font-size="7.2" fill="#222">Σ</text>
<text x="211.9" y="169.2" font-family='"Liberation Sans", sans-serif' font-size="4.4" fill="#333">T</text>
<text x="422.3" y="161.4" font-family='"Liberation Serif", serif' font-size="11.2" fill="#111">Δ<tspan font-style="italic" font-size="12" dy="0.7">ϕ</tspan></text>
<text x="436" y="156.6" font-family='"Liberation Sans", sans-serif' font-size="7.2" fill="#111">trk</text>
<text x="436.7" y="167" font-family='"Liberation Serif", serif' font-size="7.2" fill="#222">Σ</text>
<text x="441.3" y="169.2" font-family='"Liberation Sans", sans-serif' font-size="4.4" fill="#333">T</text>
<text x="542.5" y="161.4" font-family='"Liberation Serif", serif' font-size="11.2"  fill="#111">Σ</text>
<text x="548.9" y="161.4" font-family='"Liberation Sans", sans-serif' font-size="11.2" font-style="italic" fill="#111">p</text>
<text x="555.9" y="156.6" font-family='"Liberation Sans", sans-serif' font-size="7.4"  fill="#111">trk</text>
<text x="557.4" y="167.8" font-family='"Liberation Sans", sans-serif' font-size="7.2"  fill="#111">T</text>
<text x="565.4" y="161.4" font-family='"Liberation Sans", sans-serif' font-size="11.2"  fill="#111">(cone</text>
<text x="598.2" y="161.4" font-family='"Liberation Serif", serif' font-size="11.2"  fill="#111">Δ</text>
<text x="605.2" y="161.4" font-family='"Liberation Sans", sans-serif' font-size="11.2" font-style="italic" fill="#111">R</text>
<text x="613.7" y="165.4" font-family='"Liberation Sans", sans-serif' font-size="7.6"  fill="#111">max</text>
<text x="628.9" y="161.4" font-family='"Liberation Sans", sans-serif' font-size="11.2"  fill="#111">+0.30)/</text>
<text x="663.8" y="161.4" font-family='"Liberation Sans", sans-serif' font-size="11.2" font-style="italic" fill="#111">p</text>
<text x="671.2" y="156.6" font-family='"Liberation Sans", sans-serif' font-size="7.4"  fill="#111">3<tspan font-family='"Liberation Serif", serif'>μ</tspan></text>
<text x="671.7" y="167.8" font-family='"Liberation Sans", sans-serif' font-size="7.2"  fill="#111">T</text>
<text x="168.1" y="343.9" font-family='"Liberation Sans", sans-serif' font-size="11.2" font-style="italic" fill="#111">m</text>
<text x="177.6" y="347.4" font-family='"Liberation Sans", sans-serif' font-size="7.7"  fill="#111">SS</text>
<text x="190.7" y="343.9" font-family='"Liberation Sans", sans-serif' font-size="11.2"  fill="#111">[MeV]</text>
<text x="396.7" y="343.9" font-family='"Liberation Sans", sans-serif' font-size="11.2" font-style="italic" fill="#111">m</text>
<text x="406" y="347.4" font-family='"Liberation Sans", sans-serif' font-size="7.7"  fill="#111">OS1</text>
<text x="423.9" y="343.9" font-family='"Liberation Sans", sans-serif' font-size="11.2"  fill="#111">[MeV]</text>
<text x="616.3" y="343.9" font-family='"Liberation Sans", sans-serif' font-size="11.2" font-style="italic" fill="#111">m</text>
<text x="625.8" y="347.4" font-family='"Liberation Sans", sans-serif' font-size="7.7"  fill="#111">OS2</text>
<text x="644.5" y="343.9" font-family='"Liberation Sans", sans-serif' font-size="11.2"  fill="#111">[MeV]</text>
</svg></body></html>
